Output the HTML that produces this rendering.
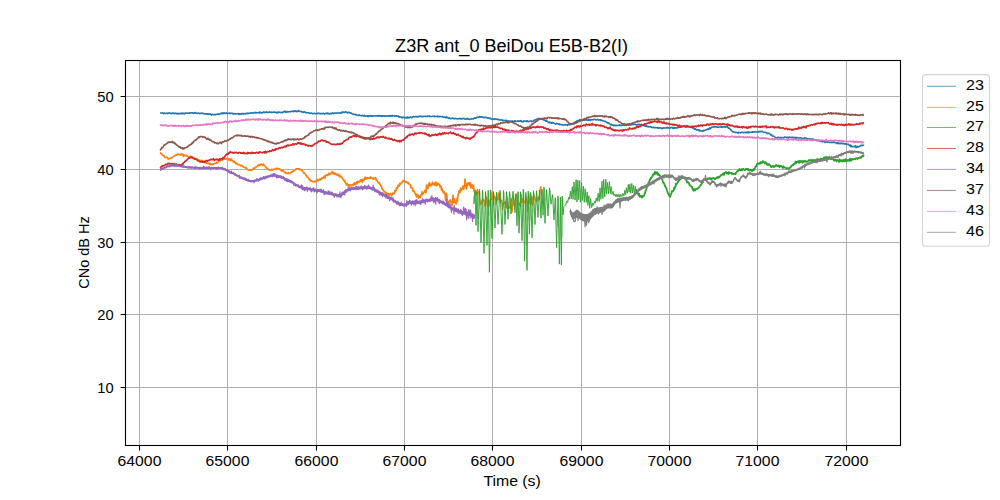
<!DOCTYPE html>
<html><head><meta charset="utf-8"><style>
html,body{margin:0;padding:0;background:#fff;}
svg{display:block;}
text{font-family:"Liberation Sans",sans-serif;fill:#000;}
</style></head><body>
<svg width="1000" height="500" viewBox="0 0 1000 500">
<defs><clipPath id="ax"><rect x="125" y="60" width="776" height="386"/></clipPath></defs>
<rect width="1000" height="500" fill="#fff"/>
<path d="M139.5 60V445M227.5 60V445M316.5 60V445M404.5 60V445M492.5 60V445M581.5 60V445M669.5 60V445M757.5 60V445M846.5 60V445M125 96.5H900M125 169.5H900M125 242.5H900M125 314.5H900M125 387.5H900" stroke="#b0b0b0" stroke-width="1" fill="none"/>
<g clip-path="url(#ax)" fill="none" stroke-linejoin="round">
<path d="M160.0 113.0l.5 .1 .5 -.1 .5 -.1 .5 .1 .5 -.1 .5 .3 .5 .5 .5 -.6 .5 0 .5 .4 .5 0 .5 -.1 .5 -.3 .5 .3 .5 .3 .5 -.6 .5 .2 .5 -.4 .5 .2 .5 -.1 .5 .5 .5 -.3 .5 .4 .5 0 .5 -.1 .5 -.7 .5 .6 .5 .2 .5 0 .5 -.5 .5 .3 .5 -.1 .5 .1 .5 .5 .5 -.5 .5 .2 .5 .3 .5 -.5 .5 .2 .5 0 .5 0 .5 -.4 .5 .4 .5 .3 .5 -.9 .5 .7 .5 -.2 .5 -.3 .5 .7 .5 -.4 .5 -.6 .5 .3 .5 .1 .5 -.2 .5 .2 .5 -.3 .5 .2 .5 .2 .5 -.6 .5 .3 .5 -.2 .5 .1 .5 -.3 .5 .1 .5 .2 .5 .3 .5 .1 .5 -.7 .5 .1 .5 .5 .5 -.8 .5 .5 .5 .1 .5 .4 .5 -.1 .5 -.3 .5 0 .5 .1 .5 .5 .5 -.5 .5 0 .5 .3 .5 -.2 .5 0 .5 -.2 .5 .4 .5 -.1 .5 .5 .5 -.1 .5 -.1 .5 .2 .5 -.2 .5 .5 .5 -.3 .5 .3 .5 -.5 .5 .5 .5 -.5 .5 0 .5 .5 .5 -.1 .5 .4 .5 .7 .5 -.9 .5 .1 .5 .2 .5 .1 .5 -.2 .5 0 .5 .3 .5 -.1 .5 -.5 .5 .2 .5 0 .5 -.4 .5 .3 .5 -.4 .5 .5 .5 -.4 .5 -.1 .5 -.3 .5 .1 .5 -.7 .5 .2 .5 .4 .5 -.8 .5 .8 .5 -.8 .5 .7 .5 -.5 .5 .4 .5 -.2 .5 -.5 .5 .9 .5 .1 .5 -.5 .5 0 .5 0 .5 -.2 .5 .7 .5 -.5 .5 .2 .5 -.2 .5 .1 .5 -.1 .5 .8 .5 -.4 .5 .4 .5 -.3 .5 -.1 .5 .1 .5 0 .5 .2 .5 -.1 .5 0 .5 -.3 .5 .2 .5 .8 .5 -.7 .5 -.1 .5 .4 .5 .3 .5 -.9 .5 .4 .5 -.2 .5 -.3 .5 .7 .5 -.3 .5 0 .5 -.3 .5 .3 .5 -.3 .5 .1 .5 -.4 .5 -.1 .5 .7 .5 -.6 .5 .2 .5 -.2 .5 -.1 .5 -.1 .5 .3 .5 -.4 .5 0 .5 0 .5 .3 .5 -.2 .5 -.1 .5 -.4 .5 -.3 .5 .7 .5 0 .5 -.4 .5 .2 .5 0 .5 0 .5 0 .5 -.4 .5 .6 .5 -.9 .5 .7 .5 -.2 .5 .2 .5 .3 .5 -.2 .5 -.7 .5 -.2 .5 .7 .5 -.5 .5 .3 .5 .3 .5 -.8 .5 -.1 .5 .7 .5 -.1 .5 -.1 .5 .1 .5 -.3 .5 -.2 .5 .5 .5 -.3 .5 -.2 .5 .7 .5 -.2 .5 .1 .5 -.4 .5 .1 .5 -.1 .5 0 .5 .4 .5 -.3 .5 .3 .5 0 .5 .5 .5 -1 .5 .7 .5 -.3 .5 0 .5 -.4 .5 .3 .5 .3 .5 -.2 .5 0 .5 -.1 .5 .4 .5 -.4 .5 -.7 .5 .4 .5 -.4 .5 -.5 .5 .8 .5 .5 .5 -.4 .5 -.4 .5 0 .5 .5 .5 -.3 .5 -.1 .5 -.1 .5 0 .5 .2 .5 -.2 .5 -.1 .5 -.4 .5 .4 .5 -.4 .5 .5 .5 -.7 .5 .3 .5 0 .5 -.4 .5 .9 .5 -.1 .5 -.5 .5 .4 .5 -.1 .5 -.9 .5 .9 .5 0 .5 .1 .5 -.3 .5 .3 .5 .1 .5 .5 .5 -.2 .5 0 .5 .5 .5 -.5 .5 .1 .5 -.3 .5 1.1 .5 -.1 .5 .1 .5 0 .5 -.1 .5 .1 .5 0 .5 .1 .5 .1 .5 .5 .5 -.2 .5 -.1 .5 -.1 .5 .1 .5 .7 .5 -.3 .5 -.1 .5 -.1 .5 -.2 .5 .4 .5 .3 .5 -.4 .5 0 .5 0 .5 .1 .5 -.5 .5 .4 .5 -.2 .5 .5 .5 -.5 .5 .4 .5 .3 .5 -.5 .5 -.1 .5 .2 .5 -.1 .5 -.3 .5 .5 .5 .4 .5 -.7 .5 0 .5 -.2 .5 .4 .5 -.5 .5 0 .5 .7 .5 -.6 .5 .5 .5 .2 .5 -.4 .5 .1 .5 .4 .5 -.7 .5 -.1 .5 -.3 .5 .4 .5 .4 .5 -.2 .5 -.6 .5 0 .5 .1 .5 .2 .5 -.2 .5 .1 .5 0 .5 -.2 .5 0 .5 0 .5 -.1 .5 .2 .5 .3 .5 -.4 .5 -.2 .5 -.6 .5 .5 .5 -.7 .5 .1 .5 .6 .5 -.1 .5 -.3 .5 -.5 .5 .4 .5 -.1 .5 .4 .5 .6 .5 -.5 .5 -.2 .5 0 .5 .5 .5 .1 .5 -.2 .5 .6 .5 -.2 .5 .8 .5 .2 .5 .2 .5 -.3 .5 .5 .5 0 .5 0 .5 .2 .5 -.2 .5 .1 .5 .8 .5 -.2 .5 .2 .5 .2 .5 -.7 .5 .3 .5 .3 .5 .1 .5 -.1 .5 .4 .5 -.2 .5 -.4 .5 .1 .5 .6 .5 -.1 .5 -.6 .5 1 .5 -.2 .5 .2 .5 -.5 .5 .1 .5 -.3 .5 1.1 .5 -.8 .5 .6 .5 -.7 .5 .2 .5 -.5 .5 .4 .5 .4 .5 -.7 .5 .7 .5 -.2 .5 -.4 .5 .1 .5 .1 .5 .1 .5 -.2 .5 0 .5 .1 .5 -.2 .5 -.1 .5 .4 .5 .3 .5 -.8 .5 .5 .5 -.2 .5 -.1 .5 .6 .5 -.5 .5 .6 .5 -.6 .5 .3 .5 -.2 .5 -.1 .5 .4 .5 -.2 .5 .2 .5 -.2 .5 -.3 .5 .3 .5 0 .5 .3 .5 -.6 .5 .3 .5 -.5 .5 .7 .5 -.5 .5 -.2 .5 .5 .5 .3 .5 -.8 .5 .2 .5 .1 .5 -.1 .5 .4 .5 -.3 .5 0 .5 .4 .5 -.3 .5 .4 .5 -.3 .5 0 .5 0 .5 1.2 .5 -.5 .5 .3 .5 0 .5 .2 .5 .1 .5 .7 .5 -.8 .5 -.1 .5 .3 .5 -.1 .5 .7 .5 0 .5 -.5 .5 -.1 .5 .3 .5 .5 .5 -1.3 .5 .9 .5 -.5 .5 .6 .5 -.7 .5 .2 .5 -.4 .5 0 .5 .7 .5 -.2 .5 -.5 .5 -.2 .5 -.3 .5 .3 .5 .1 .5 -.1 .5 0 .5 -.4 .5 .3 .5 -.1 .5 .4 .5 .1 .5 -.6 .5 -.2 .5 .2 .5 -.2 .5 0 .5 .2 .5 -.3 .5 .5 .5 -.2 .5 .1 .5 -.2 .5 -.1 .5 -.1 .5 .2 .5 -.1 .5 .3 .5 -.1 .5 -.4 .5 .4 .5 -.4 .5 .2 .5 .1 .5 -.5 .5 .6 .5 0 .5 0 .5 -.1 .5 0 .5 -.2 .5 .2 .5 -.1 .5 .2 .5 -.4 .5 .5 .5 -.1 .5 0 .5 -.1 .5 .3 .5 -.7 .5 .6 .5 0 .5 0 .5 0 .5 -.3 .5 .1 .5 .3 .5 0 .5 0 .5 -.4 .5 .7 .5 .3 .5 0 .5 -.1 .5 -.4 .5 .9 .5 -.2 .5 -.6 .5 .9 .5 -.4 .5 .1 .5 .3 .5 .7 .5 -.5 .5 .3 .5 .5 .5 -.1 .5 -.4 .5 0 .5 -.3 .5 .2 .5 .4 .5 0 .5 -.1 .5 .3 .5 -.5 .5 .3 .5 .2 .5 0 .5 .2 .5 -.2 .5 -.2 .5 .2 .5 -.3 .5 -.2 .5 .7 .5 -.2 .5 .1 .5 -.6 .5 .5 .5 -.1 .5 -.1 .5 -.4 .5 .6 .5 .4 .5 -.1 .5 -.3 .5 .2 .5 .2 .5 -1 .5 .8 .5 .2 .5 0 .5 .3 .5 -.2 .5 -.2 .5 -.1 .5 .1 .5 -.5 .5 .1 .5 .1 .5 .2 .5 -.8 .5 -.1 .5 0 .5 .2 .5 -.6 .5 .3 .5 -.9 .5 .2 .5 -.2 .5 .3 .5 0 .5 -.8 .5 .1 .5 .4 .5 -.3 .5 -.2 .5 .8 .5 -.1 .5 0 .5 -.2 .5 .5 .5 -.3 .5 .5 .5 -.6 .5 .1 .5 .4 .5 -.1 .5 .5 .5 -.1 .5 -.2 .5 .4 .5 -.1 .5 .5 .5 -.4 .5 .2 .5 .6 .5 .4 .5 0 .5 -.5 .5 .1 .5 .5 .5 -.5 .5 -.2 .5 .4 .5 .2 .5 -.3 .5 -.2 .5 .2 .5 .7 .5 -.4 .5 .3 .5 .2 .5 .2 .5 -.2 .5 .3 .5 -.3 .5 .2 .5 -.1 .5 .7 .5 -.3 .5 -.1 .5 .1 .5 .1 .5 .4 .5 -.7 .5 .2 .5 .3 .5 .9 .5 -.4 .5 -.3 .5 .3 .5 .4 .5 -.7 .5 0 .5 .5 .5 -.2 .5 .1 .5 -.4 .5 .8 .5 -.1 .5 -.3 .5 .1 .5 -.8 .5 .8 .5 -.3 .5 .2 .5 .1 .5 -.3 .5 -.4 .5 .7 .5 -.4 .5 .2 .5 -.1 .5 .1 .5 -.6 .5 1.1 .5 -.3 .5 .3 .5 .2 .5 -.5 .5 -.6 .5 .3 .5 -.1 .5 .2 .5 .2 .5 -.6 .5 .7 .5 -.6 .5 .6 .5 -.1 .5 -.1 .5 .1 .5 -.2 .5 0 .5 -.4 .5 .4 .5 .5 .5 -.1 .5 -.4 .5 -.4 .5 -.6 .5 .4 .5 -.6 .5 -.2 .5 -.3 .5 -.1 .5 -.3 .5 -.1 .5 -.4 .5 .1 .5 .7 .5 -.8 .5 -.1 .5 .3 .5 .1 .5 -.4 .5 .4 .5 .5 .5 0 .5 .2 .5 .7 .5 -.4 .5 .5 .5 .1 .5 .8 .5 -.7 .5 .6 .5 .3 .5 .6 .5 .2 .5 .4 .5 -.7 .5 .8 .5 -.2 .5 0 .5 .5 .5 -.4 .5 -.2 .5 .6 .5 -.2 .5 .3 .5 .4 .5 .1 .5 .5 .5 -.5 .5 -.3 .5 .3 .5 .1 .5 0 .5 .5 .5 -.2 .5 -.3 .5 .8 .5 -.2 .5 .2 .5 0 .5 .2 .5 -.1 .5 .4 .5 -.2 .5 .1 .5 0 .5 -.5 .5 .4 .5 0 .5 .1 .5 -.4 .5 .9 .5 -.5 .5 -.4 .5 -.2 .5 .3 .5 0 .5 -.4 .5 .1 .5 -.5 .5 .1 .5 -.6 .5 0 .5 0 .5 .2 .5 -1.4 .5 -.1 .5 -.3 .5 .2 .5 -.9 .5 0 .5 -.1 .5 -.4 .5 -.2 .5 0 .5 -.6 .5 .2 .5 .2 .5 .2 .5 -.2 .5 -.5 .5 .4 .5 .3 .5 -.1 .5 -.2 .5 -.3 .5 .4 .5 -.4 .5 -.2 .5 .1 .5 .6 .5 -.3 .5 .2 .5 -.5 .5 .4 .5 -.5 .5 .1 .5 .8 .5 -.5 .5 -.4 .5 .1 .5 .1 .5 .2 .5 -.5 .5 -.4 .5 .4 .5 .1 .5 0 .5 .4 .5 -.3 .5 .1 .5 -.5 .5 .6 .5 .3 .5 -.3 .5 -.1 .5 0 .5 .6 .5 -.6 .5 .3 .5 .4 .5 .2 .5 -.1 .5 .4 .5 0 .5 .4 .5 .1 .5 -.1 .5 .6 .5 .5 .5 -.3 .5 .5 .5 .5 .5 -.3 .5 .6 .5 -.1 .5 .8 .5 .6 .5 .1 .5 -.5 .5 .5 .5 0 .5 .1 .5 .6 .5 -.8 .5 .8 .5 -.3 .5 .5 .5 -.3 .5 -.3 .5 .3 .5 .1 .5 -.2 .5 .1 .5 -.3 .5 -.5 .5 .9 .5 -.1 .5 -.2 .5 0 .5 .2 .5 -.4 .5 -.2 .5 .2 .5 .4 .5 -.8 .5 .7 .5 -.6 .5 -.2 .5 .7 .5 -.4 .5 -.4 .5 .2 .5 .4 .5 0 .5 -.5 .5 .2 .5 .1 .5 -.5 .5 .3 .5 -.1 .5 -.2 .5 0 .5 .1 .5 0 .5 -.2 .5 0 .5 .5 .5 -.3 .5 .2 .5 .1 .5 -.2 .5 .5 .5 -.9 .5 .5 .5 -.3 .5 .7 .5 .1 .5 -1 .5 .4 .5 .6 .5 .1 .5 .2 .5 -.1 .5 .3 .5 .2 .5 -.1 .5 .5 .5 -.9 .5 1 .5 -.3 .5 .7 .5 -.2 .5 -.1 .5 .5 .5 -.3 .5 0 .5 -.1 .5 .5 .5 .2 .5 .2 .5 -.2 .5 .4 .5 -.3 .5 0 .5 .3 .5 .2 .5 -.4 .5 .1 .5 .1 .5 .1 .5 -.3 .5 .7 .5 -.4 .5 .3 .5 -.4 .5 .4 .5 0 .5 -.2 .5 .7 .5 -.5 .5 .4 .5 -.2 .5 -.5 .5 .1 .5 .2 .5 -.1 .5 0 .5 -.1 .5 -.4 .5 .4 .5 -.6 .5 .8 .5 -.3 .5 0 .5 .1 .5 .2 .5 -.5 .5 -.1 .5 .2 .5 -.3 .5 .3 .5 .8 .5 -.8 .5 .5 .5 -.6 .5 .5 .5 -.3 .5 0 .5 .1 .5 .3 .5 -.6 .5 -.1 .5 -.4 .5 .3 .5 -.3 .5 .1 .5 -.3 .5 .4 .5 -1.3 .5 .4 .5 .3 .5 -.5 .5 -.2 .5 .1 .5 -.4 .5 .4 .5 .6 .5 -.4 .5 -.6 .5 .1 .5 .2 .5 .5 .5 -.4 .5 .2 .5 .6 .5 .1 .5 -.1 .5 -.1 .5 .1 .5 .5 .5 -.3 .5 1.2 .5 -.2 .5 .5 .5 .7 .5 0 .5 -.5 .5 .9 .5 .3 .5 -.4 .5 .1 .5 .5 .5 -.3 .5 1.1 .5 -1 .5 .5 .5 .3 .5 .1 .5 .1 .5 .1 .5 -.2 .5 .4 .5 -1.1 .5 .5 .5 -.4 .5 .1 .5 -.2 .5 -.5 .5 -.2 .5 .2 .5 -.3 .5 -.6 .5 .6 .5 -.2 .5 -1.4 .5 .3 .5 .5 .5 -.7 .5 -.4 .5 -.3 .5 -.2 .5 0 .5 -.1 .5 .3 .5 -.3 .5 0 .5 -.3 .5 .4 .5 -.3 .5 .2 .5 .4 .5 -.2 .5 .1 .5 -.1 .5 -.1 .5 0 .5 -.1 .5 .3 .5 -.5 .5 .7 .5 -.4 .5 -.2 .5 .1 .5 -.1 .5 .2 .5 -.2 .5 .5 .5 -.5 .5 -.4 .5 .5 .5 -.2 .5 .9 .5 .6 .5 .2 .5 -.2 .5 .5 .5 1.2 .5 0 .5 .3 .5 .7 .5 .9 .5 0 .5 0 .5 .3 .5 .3 .5 -.1 .5 -.1 .5 .4 .5 -.3 .5 .3 .5 0 .5 .7 .5 -1 .5 .3 .5 0 .5 .1 .5 .2 .5 -.4 .5 -.1 .5 -.3 .5 .2 .5 .5 .5 -.2 .5 -.3 .5 .2 .5 .1 .5 .2 .5 -.4 .5 .1 .5 -.5 .5 .2 .5 .8 .5 -1.1 .5 .5 .5 .1 .5 -.2 .5 -.2 .5 .2 .5 0 .5 -.1 .5 -.6 .5 .5 .5 -.3 .5 0 .5 .2 .5 .1 .5 0 .5 -.5 .5 .4 .5 .1 .5 -.1 .5 .1 .5 -.5 .5 0 .5 .3 .5 -.7 .5 .5 .5 -.2 .5 .1 .5 -.4 .5 .4 .5 .3 .5 .4 .5 .1 .5 -.2 .5 .1 .5 -.1 .5 .5 .5 0 .5 .4 .5 .5 .5 -.3 .5 -.2 .5 .4 .5 .1 .5 .3 .5 1.1 .5 -.1 .5 -.2 .5 .9 .5 .5 .5 -.2 .5 .2 .5 .3 .5 .4 .5 .3 .5 .4 .5 .2 .5 .1 .5 .1 .5 -.1 .5 -.7 .5 .5 .5 .1 .5 -.2 .5 .4 .5 -.4 .5 -.2 .5 .7 .5 -.3 .5 -.1 .5 .2 .5 0 .5 -.2 .5 -.8 .5 .5 .5 0 .5 -.1 .5 .3 .5 .3 .5 -.5 .5 -.2 .5 .9 .5 -.7 .5 -.3 .5 .5 .5 0 .5 -.3 .5 .4 .5 -.3 .5 -.1 .5 .3 .5 .2 .5 -.4 .5 .3 .5 -.1 .5 .9 .5 -1 .5 .6 .5 -.4 .5 0 .5 .3 .5 .1 .5 .1 .5 -.2 .5 -.2 .5 0 .5 .4 .5 0 .5 .3 .5 -.2 .5 .2 .5 .2 .5 -.4 .5 -.4 .5 .1 .5 0 .5 1 .5 -.7 .5 .7 .5 -.2 .5 .4 .5 -.1 .5 -.3 .5 0 .5 .2 .5 .1 .5 -.1 .5 .3 .5 .6 .5 -.9 .5 .7 .5 -.3 .5 .5 .5 .3 .5 -.2 .5 .4 .5 -.6 .5 .9 .5 -.4 .5 .5 .5 0 .5 -.7 .5 .6 .5 .4 .5 .5 .5 -.3 .5 0 .5 -.4 .5 .9 .5 .2 .5 -.4 .5 -.1 .5 -.3 .5 .8 .5 .6 .5 -.5 .5 .2 .5 -.1 .5 -.4 .5 .7 .5 -.7 .5 .4 .5 .2 .5 .2 .5 0 .5 0 .5 -.3 .5 -.1 .5 .5 .5 -.2 .5 -.1 .5 0 .5 .3 .5 -.3 .5 .2 .5 0 .5 .6 .5 .1 .5 .5 .5 -1 .5 .3 .5 .5 .5 -.3 .5 0 .5 .7 .5 -.6 .5 -.2 .5 0 .5 .5 .5 .1 .5 -.5 .5 .2 .5 .5 .5 .1 .5 -.3 .5 .4 .5 .1 .5 -.6 .5 .5 .5 .4 .5 -.1 .5 -.3 .5 .8 .5 .6 .5 .4 .5 -.9 .5 1.7 .5 -1 .5 .8 .5 .3 .5 0 .5 -.2 .5 -.3 .5 .5 .5 -.4 .5 -.6 .5 1.6 .5 -.6 .5 .3 .5 -.9 .5 .7 .5 0 .5 -.1 .5 -.5 .5 -.5 .5 .2 .5 -.7 .5 0 .5 .4 .5 -.4 .5 0 .5 -.1 .5 .4" stroke="#1f77b4" stroke-width="1.55"/>
<path d="M160.0 152.7l.5 .3 .5 .8 .5 .1 .5 .5 .5 .9 .5 -.1 .5 .7 .5 -.2 .5 1 .5 .8 .5 -.3 .5 .5 .5 -.3 .5 .1 .5 .1 .5 1.5 .5 -.1 .5 -.3 .5 -.5 .5 .3 .5 -.4 .5 .1 .5 -.3 .5 -.3 .5 -.2 .5 -.6 .5 -.2 .5 -.6 .5 0 .5 -.5 .5 0 .5 -.7 .5 .3 .5 -.2 .5 -.6 .5 -.2 .5 .1 .5 .6 .5 0 .5 .1 .5 -.6 .5 .6 .5 -1.1 .5 1.3 .5 -.6 .5 -.3 .5 2.3 .5 -.9 .5 -.5 .5 .4 .5 .1 .5 .2 .5 -.7 .5 .8 .5 .5 .5 .1 .5 .4 .5 -.1 .5 1.3 .5 -1.3 .5 .4 .5 -1 .5 .6 .5 1.1 .5 -.7 .5 .9 .5 0 .5 -.1 .5 .2 .5 .3 .5 0 .5 .7 .5 .1 .5 -.3 .5 .3 .5 .4 .5 .1 .5 .5 .5 .6 .5 -.3 .5 -.1 .5 .1 .5 -.2 .5 .4 .5 -.2 .5 .6 .5 .2 .5 .7 .5 -.5 .5 .3 .5 0 .5 1.4 .5 -.6 .5 .5 .5 .2 .5 .1 .5 -.3 .5 .4 .5 .6 .5 -.9 .5 1.1 .5 .4 .5 -.8 .5 .4 .5 .3 .5 -.9 .5 .3 .5 -.4 .5 -.3 .5 0 .5 0 .5 -.2 .5 -.2 .5 -.8 .5 .6 .5 -.5 .5 -.5 .5 -.6 .5 -.3 .5 .1 .5 -.6 .5 -1.4 .5 1.1 .5 .2 .5 -1.6 .5 .6 .5 -.4 .5 -.2 .5 .3 .5 -.7 .5 .4 .5 .4 .5 -.4 .5 -.1 .5 .4 .5 -.1 .5 1.2 .5 -1.3 .5 1 .5 -.8 .5 1.4 .5 -.2 .5 -1.3 .5 1.8 .5 0 .5 .4 .5 .9 .5 -.9 .5 .3 .5 1.4 .5 -.1 .5 1.2 .5 -.6 .5 -.1 .5 .5 .5 1.1 .5 .1 .5 -.4 .5 .3 .5 .2 .5 .1 .5 .9 .5 -.3 .5 -.4 .5 .9 .5 .6 .5 .3 .5 .1 .5 .1 .5 .5 .5 -.2 .5 0 .5 1.3 .5 -.1 .5 .4 .5 .5 .5 .2 .5 -.2 .5 .7 .5 -.3 .5 -.2 .5 .6 .5 -.3 .5 -.6 .5 .1 .5 -.3 .5 -1.5 .5 .8 .5 -.4 .5 -.4 .5 -.8 .5 0 .5 -.3 .5 -.4 .5 -.8 .5 .2 .5 -.9 .5 -.1 .5 .8 .5 -1.2 .5 -.1 .5 .4 .5 -.4 .5 .2 .5 .4 .5 .5 .5 -1.3 .5 1.2 .5 .3 .5 .4 .5 .9 .5 .2 .5 1.1 .5 -.2 .5 1 .5 .4 .5 -.3 .5 .7 .5 .6 .5 -.3 .5 -.3 .5 .1 .5 -.6 .5 .6 .5 0 .5 -.6 .5 0 .5 .3 .5 -.6 .5 .1 .5 -.5 .5 -.3 .5 .3 .5 .7 .5 -.8 .5 -.1 .5 .1 .5 .2 .5 .4 .5 .1 .5 .8 .5 -.3 .5 1.2 .5 -.5 .5 .5 .5 -.7 .5 1.2 .5 .4 .5 .2 .5 -.1 .5 1.2 .5 -.3 .5 .2 .5 .4 .5 .1 .5 .2 .5 -1 .5 .5 .5 .2 .5 -.2 .5 -.4 .5 -.4 .5 -.6 .5 .1 .5 .1 .5 -1 .5 .4 .5 -.5 .5 -.7 .5 0 .5 -.9 .5 -.4 .5 0 .5 0 .5 0 .5 -.1 .5 .3 .5 -.6 .5 1.1 .5 -.5 .5 .5 .5 .4 .5 .2 .5 .3 .5 .3 .5 1.1 .5 .7 .5 .6 .5 -.3 .5 .7 .5 .8 .5 1 .5 -.1 .5 1.6 .5 0 .5 .5 .5 1 .5 .6 .5 .3 .5 1 .5 -.2 .5 1.2 .5 -.1 .5 -.2 .5 .7 .5 -.2 .5 .1 .5 -.3 .5 .1 .5 .7 .5 -1.1 .5 .5 .5 -.2 .5 -.2 .5 -1.8 .5 1.3 .5 0 .5 -.7 .5 0 .5 -1.1 .5 .9 .5 -1 .5 .2 .5 -1.2 .5 .8 .5 -1 .5 .4 .5 -1.3 .5 -.5 .5 2 .5 -2.8 .5 .1 .5 -.2 .5 -.6 .5 .6 .5 0 .5 -1.3 .5 -.7 .5 1.6 .5 -.7 .5 .1 .5 -.4 .5 -1.5 .5 .7 .5 -1.4 .5 .7 .5 1.7 .5 -1.2 .5 1.5 .5 -.9 .5 -.2 .5 1.4 .5 .3 .5 -.4 .5 -.6 .5 1.1 .5 .8 .5 -1 .5 .5 .5 1.9 .5 -.8 .5 -.3 .5 .9 .5 .4 .5 1.2 .5 .5 .5 1.2 .5 .5 .5 -.6 .5 1.8 .5 .9 .5 .4 .5 1.6 .5 -1.4 .5 .7 .5 1.5 .5 -.8 .5 -.4 .5 2.7 .5 -2.1 .5 .5 .5 -.5 .5 -.1 .5 -.1 .5 .3 .5 .2 .5 -1.8 .5 1.5 .5 -1.4 .5 -1 .5 1.5 .5 -.8 .5 -1.2 .5 1.7 .5 -2.6 .5 1.1 .5 -.5 .5 .5 .5 -1.4 .5 .6 .5 -1.8 .5 1.4 .5 -1.5 .5 -.2 .5 2.6 .5 -2.5 .5 -.4 .5 1 .5 -1.1 .5 -1.8 .5 1.9 .5 -1.8 .5 1.3 .5 .1 .5 -1.2 .5 0 .5 .7 .5 -.2 .5 -.6 .5 1 .5 -1.6 .5 1.1 .5 -.2 .5 .2 .5 .9 .5 -1.1 .5 1.3 .5 -.4 .5 -.2 .5 -.4 .5 -.6 .5 2.5 .5 -.8 .5 1.2 .5 1.2 .5 .6 .5 .9 .5 -.6 .5 .2 .5 2 .5 .2 .5 1.4 .5 .1 .5 2.7 .5 -.2 .5 .9 .5 1.1 .5 .3 .5 .5 .5 .5 .5 1.6 .5 -1.5 .5 3.2 .5 -2.4 .5 1.1 .5 -.5 .5 -.1 .5 2 .5 -1.5 .5 -.6 .5 -.1 .5 .6 .5 1.9 .5 -1.5 .5 .3 .5 -1.8 .5 .5 .5 -.3 .5 .3 .5 -3 .5 .8 .5 -.7 .5 -2.7 .5 .7 .5 -.9 .5 -2.3 .5 1.3 .5 -.3 .5 -2.2 .5 -1 .5 1.4 .5 -1.5 .5 .1 .5 -.2 .5 -1.8 .5 .8 .5 -1.2 .5 .2 .5 .1 .5 .2 .5 1.1 .5 -.4 .5 0 .5 .2 .5 1 .5 -.7 .5 .3 .5 1.4 .5 0 .5 .8 .5 0 .5 3 .5 .1 .5 -.1 .5 .3 .5 3 .5 -.9 .5 .5 .5 1.5 .5 .6 .5 1.9 .5 -.7 .5 2.8 .5 -2.5 .5 2.1 .5 -1.4 .5 3.2 .5 -2.2 .5 .3 .5 .9 .5 .1 .5 -2.8 .5 0 .5 -2.9 .5 3 .5 -.9 .5 -.7 .5 -.9 .5 -.6 .5 -1.5 .5 2.6 .5 -.2 .5 -7.5 .5 3.9 .5 -1.3 .5 1 .5 -4.6 .5 1.7 .5 -3.1 .5 3.3 .5 -1 .5 -.8 .5 1.3 .5 -1.5 .5 -1.9 .5 2.7 .5 -.5 .5 -.7 .5 1.4 .5 .3 .5 -3.2 .5 .4 .5 3.3 .5 .1 .5 -2.6 .5 -.1 .5 1.3 .5 -.1 .5 -.1 .5 2.8 .5 -1.3 .5 .7 .5 3.7 .5 -1.6 .5 1.4 .5 1.9 .5 1 .5 -1.4 .5 1.9 .5 -.5 .5 7.5 .5 -2.5 .5 -4.4 .5 4.7 .5 2.3 .5 1.5 .5 5 .5 -3.4 .5 -2.7 .5 .7 .5 -1.7 .5 2.3 .5 -.1 .5 3.9 .5 -3.7 .5 -6.9 .5 5.9 .5 1.4 .5 -3.8 .5 3.1 .5 1 .5 1.1 .5 -1.7 .5 -3.9 .5 3.1 .5 -6.6 .5 -1.2 .5 -2.8 .5 0 .5 1.4 .5 -4.2 .5 1.8 .5 .6 .5 -2.2 .5 .4 .5 -2.7 .5 3.2 .5 -1.1 .5 -2.1 .5 -7 .5 3.4 .5 4.3 .5 2.2 .5 -5.2 .5 1.6 .5 -2.7 .5 .6 .5 1 .5 1 .5 -2.7 .5 4.3 .5 1.1 .5 -3.4 .5 .3 .5 3.5 .5 -.9 .5 -2 .5 5.8 .5 -.4 .5 -.5 .5 4.6 .5 -2.4 .5 -1.3 .5 1.9 .5 -3.6 .5 3.1" stroke="#ff7f0e" stroke-width="1.6"/>
<path d="M474.4 189.3l.7 3.5 .7 -1.2 .7 2.7 .7 -2.5 .7 .8 .7 -1 .7 5.9 .7 2.3 .7 5.1 .7 -1.8 .7 -3.1 .7 -1.5 .7 2.7 .7 -1.4 .7 6.9 .7 -2.1 .7 -7.8 .7 .8 .7 9.4 .7 -4.7 .7 -2.4 .7 6.4 .7 -7.1 .7 .5 .7 -.9 .7 -6.8 .7 12.6 .7 -9.4 .7 2.8 .7 -.9 .7 6.5 .7 -3.7 .7 .3 .7 -7.7 .7 7.1 .7 -6.2 .7 8 .7 .4 .7 -1.6 .7 9.6 .7 -6.5 .7 .7 .7 -1.7 .7 -1 .7 5.6 .7 1 .7 -10.5 .7 10.9 .7 -2.2 .7 2.2 .7 -2.2 .7 -7.7 .7 .3 .7 13.5 .7 -7.1 .7 -7.5 .7 8 .7 -3.2 .7 -6.7 .7 -2 .7 3.1 .7 8.4 .7 -1.4 .7 -.9 .7 2.4 .7 1.4 .7 -12.2 .7 8 .7 -2.4 .7 -2 .7 3 .7 1.8 .7 -.8 .7 -5.5 .7 4.1 .7 11.1 .7 -14 .7 -3.1 .7 8.6 .7 1.3 .7 -.9 .7 -7.4 .7 9.1 .7 -8.4 .7 -2 .7 1.9 .7 1.8 .7 3.2 .7 -1 .7 -3.5 .7 3.7 .7 -4.5 .7 2.9 .7 -11.3 .7 -1.7 .7 9.6" stroke="#ff7f0e" stroke-width="1.2"/>
<path d="M474.6 198.0l0 3 1 -8.4 1 11.2 1 -9.9 1 12.3 1.5 -14.7 1.5 23.2 1.5 -22.3 1.5 32.4 1.5 -31.3 1.5 21.5 1.2 -22.7 1.2 23.3 1.3 -23.7 1.3 20.8 1.5 -19.2 1.5 12.1 1.5 -11.5 1.5 9.2 2 -11.1 2 15.5 1.5 -15.1 1.5 15.1 1.5 -14.1 1.5 15.4 1.5 -15.5 1.5 7.5 2 -7.7 2 5.9 1 -3.2 1 7.9 1 -10.3 1 24.6 1.5 -24.4 1.5 30 1.3 -32.5 1.3 30.1 1.2 -26.9 1.2 26.8 1.2 -28.1 1.2 26.8 1.3 -25.7 1.3 18.7 1.5 -20.3 1.5 18.1 1.5 -18.1 1.5 6 1.5 -6.8 1.5 13.6 1 -14.4 1 15.5 1 -17.6 1 12 1.5 -9.3 1.5 13.2 1.5 -15.1 1.5 6.7 1.5 .1 1.5 14.4 1.3 -11.3 1.3 26.3 1.4 -28.1 1.4 42.1 1 -40.9 1 38.6 .8 -39.5 .8 6.9" stroke="#2ca02c" stroke-width="0.7" stroke-opacity="0.35"/>
<path d="M474.0 196.0l0 7.8 1 -13.2 1 34.7 1 -33.4 1 39.7 1.5 -42.1 1.5 53.3 1.5 -52.4 1.5 62.9 1.5 -61.8 1.5 53.9 1.2 -55.1 1.2 82 1.3 -82.4 1.3 48.7 1.5 -47.1 1.5 36.5 1.5 -35.9 1.5 32.2 2 -34.1 2 44.1 1.5 -43.7 1.5 33.9 1.5 -32.9 1.5 27.6 1.5 -27.7 1.5 22.5 2 -22.7 2 21.4 1 -18.7 1 31.7 1 -34.1 1 41.6 1.5 -41.4 1.5 48.9 1.3 -51.4 1.3 71.9 1.2 -68.7 1.2 77.9 1.2 -79.2 1.2 43 1.3 -41.9 1.3 45.5 1.5 -47.1 1.5 33.9 1.5 -33.9 1.5 26.7 1.5 -27.5 1.5 28.2 1 -29 1 26.2 1 -28.3 1 36.3 1.5 -33.6 1.5 26.2 1.5 -28.1 1.5 16.4 1.5 -9.6 1.5 25.3 1.3 -22.2 1.3 49.9 1.4 -51.7 1.4 68.2 1 -67 1 68 .8 -68.9 .8 18.9 .8 -8.7" stroke="#2ca02c" stroke-width="0.9"/>
<path d="M564.5 205.6l1.1 -.3 1.1 -4.1 1 1.2 .9 -5 .9 1.8 .9 -8 .9 7.6 1 -12.1 .8 12.6 .9 -17.3 1.1 18.1 1 -20.4 .9 22.4 .8 -21.9 .9 19.5 1 -19.2 .7 21.8 1.2 -19.6 1 17.8 .9 -14.3 .8 16 .9 -13.4 1 13.6 1 -10.4 .7 13.4 1 -9.8 .8 12.7 .9 -9.7 1.1 9 1 -4.6 .9 2.3 .9 -4.2 .9 2 .8 -5.2 1 3.5 1 -8.1 1 8.2 .8 -13.7 .9 11.5 1.1 -18 .9 17.1 .8 -19 1.1 17.4 1 -17.5 .8 14.8 .9 -11.6 1 11.4 .9 -12.3 .9 12 .9 -7.1 .8 7.9 1.1 -3 .9 4.3 1 -1.6 1 2.8 .9 -2.6 .9 2.6 1.1 -2.8 .9 3.3 1 -3 1.1 2.3 1 -3.3 1 2.6 .9 -5.7 .8 4.4 .8 -7 1 5.7 .9 -9 .8 7.7 .8 -8.3 .9 9.6 1 -10 .8 9.6 1 -7.8 .8 9.3 1 -8.2 1 7.8 .9 -2.8" stroke="#2ca02c" stroke-width="0.9"/>
<path d="M564.5 205.6l.5 .1 .5 -1.1 .5 -.7 .5 -.2 .5 -1.1 .5 -1.2 .5 -1.4 .5 -.7 .5 -1.3 .5 -1.5 .5 -1.3 .5 -.7 .5 -.9 .5 -.3 .5 -.5 .5 -.5 .5 -.9 .5 -.1 .5 -.2 .5 -.4 .5 -.1 .5 .4 .5 -.6 .5 .1 .5 -.5 .5 .1 .5 -.5 .5 .4 .5 .4 .5 .4 .5 .1 .5 .3 .5 .2 .5 .3 .5 .6 .5 .6 .5 .1 .5 .9 .5 .1 .5 .4 .5 .8 .5 .6 .5 .9 .5 1.6 .5 .6 .5 1 .5 1.1 .5 .8 .5 .5 .5 1.2 .5 .4 .5 .4 .5 .4 .5 -.2 .5 .3 .5 0 .5 -.4 .5 -.9 .5 -.5 .5 -.3 .5 -.5 .5 -.8 .5 -.6 .5 -1.1 .5 -.6 .5 -.5 .5 -.9 .5 -.8 .5 -.3 .5 -1.5 .5 -1.3 .5 -.8 .5 -.5 .5 -1.3 .5 -.5 .5 -1.2 .5 -.6 .5 -.5 .5 0 .5 .4 .5 -.9 .5 .6 .5 -.8 .5 .2 .5 .2 .5 -.1 .5 -.1 .5 -.5 .5 .6 .5 0 .5 1.4 .5 -.1 .5 .7 .5 .3 .5 .9 .5 .7 .5 1.4 .5 .3 .5 .8 .5 .2 .5 .6 .5 .8 .5 -.4 .5 -.2 .5 .6 .5 -.4 .5 .2 .5 .4 .5 -.4 .5 .4 .5 -.4 .5 .5 .5 -.2 .5 -.7 .5 -.2 .5 -.4 .5 0 .5 -.1 .5 -1.1 .5 .2 .5 -1.2 .5 -.5 .5 -.9 .5 .4 .5 -1.1 .5 -.5 .5 -.9 .5 -.2 .5 -1.2 .5 .3 .5 .6 .5 -.6 .5 .1 .5 .3 .5 -.2 .5 .3 .5 .4 .5 0 .5 .4 .5 .1 .5 .5 .5 .4 .5 1 .5 .5 .5 .4 .5 0" stroke="#2ca02c" stroke-width="1.0" stroke-opacity="0.3"/>
<path d="M636.0 189.2l.5 1.7 .5 1.2 .5 .7 .5 .8 .5 1.8 .5 -1.9 .5 2.3 .5 1.2 .5 -1.1 .5 .2 .5 .6 .5 .8 .5 -1.7 .5 .8 .5 -.5 .5 -.4 .5 -1.5 .5 -1.1 .5 -2 .5 -1.1 .5 -1.7 .5 -1.4 .5 -1.1 .5 -1.4 .5 -1.9 .5 .4 .5 -2 .5 -1.8 .5 .5 .5 -2 .5 0 .5 -1.1 .5 -.6 .5 -.8 .5 -1.2 .5 -.3 .5 .8 .5 -2.7 .5 1.4 .5 .2 .5 -.8 .5 -.1 .5 2.3 .5 -1.4 .5 1.7 .5 -.5 .5 .3 .5 1 .5 .8 .5 1.1 .5 .4 .5 .9 .5 1.1 .5 2 .5 .9 .5 .1 .5 1.4 .5 1.7 .5 .5 .5 1.3 .5 .8 .5 1.7 .5 1.5 .5 1.4 .5 .3 .5 1.9 .5 -.8 .5 2.1 .5 -1.6 .5 -1 .5 -1.3 .5 -2.2 .5 .8 .5 -.8 .5 .1 .5 -2.9 .5 1 .5 -2.2 .5 -.2 .5 -2.9 .5 .7 .5 -1.2 .5 -.3 .5 -1.2 .5 -1.5 .5 .5 .5 -.8 .5 -.5 .5 -.3 .5 -.4 .5 -1.1 .5 -1.1 .5 -.2 .5 1.5 .5 -.2 .5 0 .5 .2 .5 .9 .5 .7 .5 .4 .5 .4 .5 2.3 .5 -.5 .5 .1 .5 .3 .5 1 .5 1.5 .5 .6 .5 0 .5 .8 .5 .4 .5 .2 .5 2.1 .5 0 .5 1.8 .5 -1.6 .5 .6 .5 .7 .5 -.7 .5 -.9 .5 0 .5 .2 .5 -.3 .5 -.7 .5 .1 .5 -.5 .5 -1 .5 -.7 .5 -.8 .5 -.2 .5 -.7 .5 -1.4 .5 -.7 .5 -1.3 .5 -1.4 .5 -.4 .5 .6 .5 -.4 .5 .6 .5 -1 .5 .4 .5 .3 .5 -.3 .5 -1 .5 .3 .5 .1 .5 -.7 .5 .9 .5 .3 .5 -1 .5 1.4 .5 -1.3 .5 0 .5 -.1 .5 -.3 .5 .7 .5 -.3 .5 .9 .5 -.6 .5 -.1 .5 -.6 .5 -.7 .5 .6 .5 -.8 .5 .7 .5 -1 .5 .5 .5 -1 .5 -.3 .5 -.8 .5 -.3 .5 0 .5 -.2 .5 -1.2 .5 .4 .5 1.1 .5 -1.8 .5 -.3 .5 -.3 .5 -.5 .5 1.5 .5 -.8 .5 .1 .5 .9 .5 .4 .5 -2.1 .5 1.1 .5 -.2 .5 -.1 .5 .1 .5 -.1 .5 1.2 .5 -.4 .5 0 .5 .6 .5 -.2 .5 -.3 .5 -.2 .5 .6 .5 -1.1 .5 -.8 .5 -.8 .5 -.1 .5 -.9 .5 .4 .5 -.3 .5 -1.6 .5 1.1 .5 .3 .5 -.4 .5 -.7 .5 1.3 .5 -1.3 .5 -.3 .5 0 .5 .6 .5 .6 .5 .1 .5 -.6 .5 -.8 .5 .4 .5 0 .5 .5 .5 -.9 .5 1.3 .5 .4 .5 -.4 .5 .5 .5 -.8 .5 -.2 .5 .5 .5 1.1 .5 -.2 .5 -1.2 .5 .6 .5 -1.5 .5 .4 .5 -1.3 .5 -1.3 .5 0 .5 -1.7 .5 -.7 .5 -.8 .5 .7 .5 -.5 .5 -.3 .5 -.5 .5 .8 .5 -1.3 .5 -.4 .5 1 .5 0 .5 -.8 .5 -1.2 .5 .7 .5 .8 .5 -.1 .5 1.2 .5 -1.5 .5 1.6 .5 -.5 .5 1.5 .5 -.5 .5 .9 .5 -.7 .5 -.2 .5 .6 .5 .6 .5 0 .5 1.6 .5 .2 .5 -.5 .5 -.8 .5 .5 .5 -.4 .5 1.2 .5 -.7 .5 0 .5 -.6 .5 -1 .5 .7 .5 -.2 .5 .8 .5 -.1 .5 -.6 .5 .3 .5 1.3 .5 -1.4 .5 .1 .5 .5 .5 -.1 .5 .3 .5 .7 .5 .8 .5 -1.9 .5 1.2 .5 .2 .5 .2 .5 .1 .5 .1 .5 1 .5 -.8 .5 .3 .5 .1 .5 0 .5 -.4 .5 .4 .5 -.9 .5 -.3 .5 -.6 .5 -.9 .5 -.3 .5 -.5 .5 .3 .5 -1 .5 -.7 .5 .3 .5 -.3 .5 -1.9 .5 1.7 .5 -1.4 .5 -.3 .5 .5 .5 -.7 .5 -.4 .5 1.7 .5 -1.9 .5 .5 .5 .6 .5 -1.1 .5 .5 .5 .3 .5 1.2 .5 -1.9 .5 .5 .5 .4 .5 -.4 .5 -.8 .5 .9 .5 -.2 .5 .1 .5 .3 .5 -.2 .5 -.5 .5 -.2 .5 -.9 .5 .5 .5 .1 .5 -.4 .5 .3 .5 -.6 .5 1.3 .5 .4 .5 -1.6 .5 .4 .5 -.4 .5 .9 .5 -.5 .5 -.3 .5 -.2 .5 .1 .5 -.7 .5 .9 .5 -.9 .5 .7 .5 -.4 .5 .5 .5 -.8 .5 .5 .5 -1.2 .5 .8 .5 -.6 .5 .1 .5 -.1 .5 .4 .5 -1.9 .5 1.3 .5 -1.2 .5 1.6 .5 -2 .5 .5 .5 -.4 .5 1.9 .5 -1.8 .5 .9 .5 -.4 .5 -.7 .5 .9 .5 .7 .5 -.3 .5 .8 .5 -.6 .5 .4 .5 0 .5 .7 .5 1.1 .5 -.7 .5 .1 .5 -.3 .5 .1 .5 1.5 .5 -1.4 .5 .2 .5 .5 .5 -.2 .5 1.5 .5 -2.6 .5 1.6 .5 .2 .5 -1.1 .5 .2 .5 .7 .5 .6 .5 -1.5 .5 -.4 .5 1.4 .5 .3 .5 -1.1 .5 -1.2 .5 2.2 .5 -1.1 .5 .7 .5 -.7 .5 -.3 .5 -.1 .5 1.1 .5 -.1 .5 -2.2 .5 .7 .5 1.5 .5 -1.3 .5 -.7 .5 .7 .5 -.1 .5 -.1 .5 -.3 .5 0 .5 -.2 .5 .3 .5 -.9 .5 .2 .5 -.1 .5 .7 .5 -.8 .5 -.4 .5 .1 .5 -.3 .5 .2 .5 -.6 .5 .6 .5 -.5 .5 -1.1 .5 -.5 .5 .5 .5 -.4 .5 -.7" stroke="#2ca02c" stroke-width="1.8"/>
<path d="M160.0 168.3l.5 -.4 .5 -1 .5 -.8 .5 .1 .5 .5 .5 -1.1 .5 -.1 .5 0 .5 .1 .5 -.7 .5 -.3 .5 -.4 .5 .7 .5 -.4 .5 -.6 .5 -.6 .5 .1 .5 .5 .5 -.6 .5 .7 .5 -.2 .5 0 .5 .1 .5 0 .5 -.4 .5 .3 .5 1.1 .5 -1.3 .5 .4 .5 .7 .5 -.4 .5 -.1 .5 -.1 .5 .8 .5 .3 .5 .2 .5 -.5 .5 .5 .5 -.8 .5 .5 .5 -.4 .5 .2 .5 0 .5 -.1 .5 -1.2 .5 .6 .5 -1.2 .5 -.6 .5 -.2 .5 -1 .5 .1 .5 -.4 .5 -.7 .5 -.2 .5 -.8 .5 -.2 .5 -1 .5 .3 .5 -.7 .5 0 .5 0 .5 .1 .5 -.7 .5 .1 .5 .6 .5 .5 .5 .1 .5 .5 .5 .4 .5 -.1 .5 .1 .5 -.1 .5 .3 .5 .5 .5 .6 .5 .3 .5 .1 .5 .2 .5 .6 .5 0 .5 .2 .5 .1 .5 -.2 .5 -.2 .5 .6 .5 -.1 .5 -.3 .5 -.2 .5 .9 .5 -1.4 .5 .1 .5 0 .5 -.8 .5 .3 .5 .5 .5 -.5 .5 -.3 .5 -.2 .5 -.3 .5 .2 .5 -.6 .5 -.2 .5 .2 .5 .3 .5 -.3 .5 .2 .5 -1.1 .5 1.3 .5 .5 .5 -.4 .5 -.6 .5 -.2 .5 .4 .5 -.5 .5 .7 .5 -.4 .5 .6 .5 .1 .5 -1.3 .5 .9 .5 -.4 .5 -.5 .5 .1 .5 -.1 .5 .1 .5 -1.5 .5 .6 .5 -.1 .5 -1.1 .5 -.6 .5 -.7 .5 -1 .5 .1 .5 -.5 .5 -.3 .5 .4 .5 -1.1 .5 -.3 .5 .3 .5 -1.2 .5 0 .5 .4 .5 -.1 .5 .5 .5 -.4 .5 .9 .5 -.1 .5 -.3 .5 -.4 .5 .4 .5 .1 .5 -.7 .5 .6 .5 .1 .5 -.1 .5 .5 .5 -.1 .5 -.8 .5 .4 .5 -.3 .5 .6 .5 -.6 .5 .8 .5 -.2 .5 .2 .5 -.4 .5 -.5 .5 1.3 .5 -.8 .5 .6 .5 -.3 .5 .1 .5 .4 .5 -.6 .5 .5 .5 -1.2 .5 .9 .5 -.4 .5 0 .5 .1 .5 .1 .5 .5 .5 -1.4 .5 .8 .5 -.4 .5 .8 .5 -.7 .5 .4 .5 -.4 .5 .4 .5 .2 .5 -.6 .5 .1 .5 -.6 .5 .7 .5 .2 .5 -.6 .5 .7 .5 -1.3 .5 0 .5 .2 .5 .3 .5 .2 .5 0 .5 -.1 .5 .3 .5 -.5 .5 -.4 .5 -.1 .5 1.3 .5 -1.9 .5 .8 .5 .6 .5 -.6 .5 -.6 .5 .2 .5 .2 .5 0 .5 -1 .5 .5 .5 -.3 .5 .2 .5 -.1 .5 -.8 .5 -.6 .5 .5 .5 .4 .5 -.6 .5 -.3 .5 .7 .5 -1.5 .5 .6 .5 -.8 .5 .1 .5 -.1 .5 .4 .5 -1.1 .5 0 .5 -.5 .5 .7 .5 -.5 .5 .2 .5 -.7 .5 .1 .5 .5 .5 -.7 .5 .2 .5 -.2 .5 -.4 .5 -.7 .5 .9 .5 -.5 .5 .2 .5 -1.3 .5 0 .5 -.4 .5 .4 .5 .6 .5 -.3 .5 -.4 .5 -.1 .5 .1 .5 -.5 .5 .2 .5 -.3 .5 -1 .5 .6 .5 .6 .5 -.8 .5 0 .5 -.3 .5 0 .5 .6 .5 -.6 .5 -.4 .5 -.9 .5 1 .5 -.6 .5 .1 .5 1 .5 0 .5 -1 .5 1.2 .5 -.1 .5 -.3 .5 .7 .5 -.8 .5 .4 .5 0 .5 .4 .5 .9 .5 -.7 .5 .3 .5 .2 .5 .6 .5 -.1 .5 .6 .5 -.6 .5 -.1 .5 .3 .5 .2 .5 -.5 .5 .4 .5 .4 .5 -1.1 .5 0 .5 .2 .5 -1.1 .5 -.4 .5 -.4 .5 .3 .5 -.3 .5 -.6 .5 -.3 .5 .2 .5 -.5 .5 -1.2 .5 .3 .5 -.2 .5 .1 .5 -.6 .5 -.3 .5 0 .5 -.5 .5 .7 .5 -.2 .5 .5 .5 -.4 .5 .3 .5 0 .5 .1 .5 1 .5 -.3 .5 .6 .5 -.4 .5 .7 .5 -.5 .5 .8 .5 .2 .5 .6 .5 .1 .5 0 .5 .6 .5 -.1 .5 .2 .5 .2 .5 -.3 .5 0 .5 .2 .5 -.3 .5 .3 .5 .3 .5 -.2 .5 -.5 .5 -.4 .5 .5 .5 -.1 .5 .4 .5 -.6 .5 0 .5 .3 .5 -.7 .5 -.2 .5 .5 .5 -.5 .5 -.8 .5 -.5 .5 -.9 .5 .2 .5 -.6 .5 -.3 .5 -.6 .5 -.1 .5 -.4 .5 -.1 .5 .2 .5 -.7 .5 -1.1 .5 -.1 .5 -.5 .5 .1 .5 .2 .5 -.3 .5 -.6 .5 .2 .5 -.6 .5 -.4 .5 -.1 .5 .2 .5 .8 .5 -1 .5 1 .5 .1 .5 -.5 .5 .1 .5 -.2 .5 .4 .5 .4 .5 -.2 .5 .6 .5 .2 .5 -.2 .5 .1 .5 0 .5 .3 .5 -.4 .5 .7 .5 .1 .5 -.3 .5 1.4 .5 -1.2 .5 .2 .5 .6 .5 -.8 .5 .5 .5 -.2 .5 .3 .5 .4 .5 .2 .5 .3 .5 -.1 .5 .1 .5 -.3 .5 -.5 .5 .6 .5 -.7 .5 -.2 .5 .8 .5 -.4 .5 -.4 .5 .1 .5 -.1 .5 -1 .5 .4 .5 -.6 .5 .4 .5 -.4 .5 .7 .5 -.4 .5 -.6 .5 .3 .5 -.6 .5 .5 .5 .2 .5 -.1 .5 -.8 .5 .7 .5 .4 .5 0 .5 .5 .5 -.8 .5 .9 .5 -.3 .5 .5 .5 .2 .5 .3 .5 -.4 .5 .5 .5 -.4 .5 0 .5 .9 .5 -.1 .5 -.5 .5 .4 .5 .5 .5 .8 .5 -.1 .5 0 .5 -.9 .5 .8 .5 .4 .5 0 .5 .2 .5 -.2 .5 .9 .5 -.1 .5 -.5 .5 -.4 .5 1.3 .5 -1 .5 .6 .5 .2 .5 -1.3 .5 .3 .5 -.6 .5 .1 .5 -.5 .5 .3 .5 -.9 .5 -.7 .5 0 .5 -.9 .5 -.5 .5 .7 .5 -1.6 .5 -.3 .5 -.1 .5 -.7 .5 -.6 .5 1.1 .5 -.9 .5 0 .5 -.1 .5 -.3 .5 -.2 .5 .4 .5 .8 .5 -.8 .5 -.1 .5 -1 .5 .5 .5 -.6 .5 .7 .5 -.5 .5 0 .5 -.1 .5 -.2 .5 -.5 .5 .8 .5 -.8 .5 0 .5 .4 .5 -.2 .5 .4 .5 .3 .5 -.2 .5 .1 .5 .1 .5 .5 .5 -.9 .5 1.1 .5 -.2 .5 .1 .5 .7 .5 0 .5 .6 .5 .4 .5 -1.3 .5 1 .5 .9 .5 -.5 .5 .2 .5 -.6 .5 -.6 .5 0 .5 .7 .5 0 .5 -.7 .5 .1 .5 .1 .5 -.9 .5 .4 .5 .7 .5 .2 .5 -1.1 .5 .7 .5 -1 .5 -.2 .5 -.7 .5 1.3 .5 -.6 .5 1 .5 -.9 .5 -.1 .5 -.9 .5 1.3 .5 -.8 .5 0 .5 -.9 .5 1.2 .5 0 .5 -.7 .5 .2 .5 .1 .5 .2 .5 -.4 .5 .6 .5 -.8 .5 -.2 .5 .1 .5 -.8 .5 .7 .5 .8 .5 -.3 .5 -.3 .5 .6 .5 -.9 .5 .8 .5 .5 .5 .2 .5 -.4 .5 .9 .5 .5 .5 -.7 .5 .6 .5 -.7 .5 .1 .5 1.2 .5 0 .5 .3 .5 -.1 .5 .3 .5 .6 .5 .6 .5 -.6 .5 -.4 .5 1.4 .5 -.1 .5 .2 .5 0 .5 1 .5 -.8 .5 .3 .5 -.8 .5 .6 .5 0 .5 .4 .5 .2 .5 -.4 .5 1 .5 -1.2 .5 .1 .5 0 .5 -.9 .5 .3 .5 -.4 .5 -.9 .5 .4 .5 -1.3 .5 -.6 .5 -1.1 .5 -.9 .5 -.1 .5 -.5 .5 -.6 .5 0 .5 -1.7 .5 .2 .5 -.6 .5 1 .5 -.9 .5 -.2 .5 -.4 .5 .7 .5 -.7 .5 .1 .5 -1.1 .5 1.1 .5 -.4 .5 -.1 .5 .1 .5 -.7 .5 -.1 .5 .2 .5 -.2 .5 -.4 .5 .1 .5 -.4 .5 .4 .5 .1 .5 -.5 .5 .7 .5 -1.4 .5 .5 .5 .7 .5 -.9 .5 -.5 .5 1.2 .5 -.3 .5 -.7 .5 .9 .5 -.7 .5 0 .5 .6 .5 0 .5 -.2 .5 .5 .5 -.1 .5 .6 .5 .1 .5 .5 .5 -.4 .5 -.1 .5 .1 .5 .6 .5 .9 .5 -.1 .5 -.5 .5 .8 .5 -.7 .5 1 .5 -.5 .5 .6 .5 0 .5 -.2 .5 .3 .5 -.4 .5 .5 .5 .6 .5 1.3 .5 -1.3 .5 -.1 .5 -.4 .5 .9 .5 -1 .5 .4 .5 .6 .5 -.6 .5 1.1 .5 -.1 .5 -.7 .5 .1 .5 -.4 .5 0 .5 .7 .5 0 .5 -.2 .5 -.2 .5 -.4 .5 .2 .5 -.8 .5 .4 .5 .4 .5 -.2 .5 -.9 .5 -.1 .5 .5 .5 0 .5 -1.5 .5 .3 .5 0 .5 .3 .5 -1 .5 .4 .5 -.5 .5 .9 .5 -.9 .5 -.3 .5 -.2 .5 .5 .5 -.2 .5 -.8 .5 .5 .5 -.7 .5 .1 .5 -.3 .5 0 .5 .2 .5 -.2 .5 .5 .5 .1 .5 -.5 .5 -.4 .5 .7 .5 -1.1 .5 0 .5 1 .5 0 .5 .1 .5 -.5 .5 -.4 .5 .4 .5 .5 .5 -.4 .5 .1 .5 -.1 .5 .3 .5 1 .5 0 .5 -.4 .5 .2 .5 .5 .5 .6 .5 -.5 .5 .6 .5 -.6 .5 .5 .5 .8 .5 .3 .5 -.8 .5 .2 .5 .7 .5 -.4 .5 0 .5 .4 .5 -.1 .5 .5 .5 -.1 .5 -.5 .5 .2 .5 0 .5 -.4 .5 .2 .5 .8 .5 -1 .5 1 .5 -.2 .5 -.1 .5 .3 .5 0 .5 .3 .5 -.6 .5 0 .5 .1 .5 .8 .5 -.3 .5 -.8 .5 .3 .5 -.1 .5 .3 .5 0 .5 .9 .5 -1.7 .5 1.2 .5 -.2 .5 -.5 .5 .2 .5 -.3 .5 .1 .5 .2 .5 -1.3 .5 .8 .5 -1 .5 .4 .5 -.8 .5 0 .5 -.6 .5 -.1 .5 -.7 .5 -.6 .5 .4 .5 -.1 .5 .4 .5 -1.8 .5 .6 .5 .4 .5 -1 .5 .3 .5 .8 .5 -.4 .5 -1 .5 .8 .5 -.2 .5 -.2 .5 -.3 .5 -.1 .5 -.6 .5 .1 .5 .4 .5 -.3 .5 .6 .5 -.9 .5 -.9 .5 .7 .5 .2 .5 0 .5 -.1 .5 -.4 .5 .9 .5 -.9 .5 .5 .5 -.4 .5 -.4 .5 1.1 .5 -1.6 .5 .7 .5 .5 .5 -.3 .5 .5 .5 -.3 .5 0 .5 1.1 .5 -.9 .5 .1 .5 -.3 .5 .2 .5 .7 .5 0 .5 -.1 .5 -.2 .5 .7 .5 -.9 .5 .7 .5 .1 .5 -.1 .5 .5 .5 -.2 .5 0 .5 1.2 .5 -.2 .5 .3 .5 -.3 .5 .5 .5 .2 .5 .3 .5 .7 .5 -.9 .5 .4 .5 .1 .5 -1.2 .5 1 .5 .7 .5 .4 .5 -.3 .5 .9 .5 .2 .5 -.6 .5 .9 .5 .3 .5 -.4 .5 -.5 .5 1 .5 -.6 .5 0 .5 .2 .5 -.2 .5 .6 .5 -.1 .5 .2 .5 -.3 .5 -.6 .5 .2 .5 .4 .5 -.6 .5 1.3 .5 -1.3 .5 -.2 .5 .6 .5 -.2 .5 -.4 .5 -.2 .5 .2 .5 .1 .5 -.1 .5 -.5 .5 .2 .5 .1 .5 -.2 .5 -1.6 .5 .8 .5 0 .5 .1 .5 .1 .5 .2 .5 -.2 .5 -.4 .5 -.1 .5 .6 .5 -1.1 .5 .2 .5 .4 .5 -.7 .5 -1.1 .5 .8 .5 -.5 .5 0 .5 .3 .5 -.5 .5 -.4 .5 .2 .5 -.3 .5 -.4 .5 -.1 .5 -.2 .5 -.5 .5 -.2 .5 0 .5 -.6 .5 -.3 .5 .8 .5 -.8 .5 -.1 .5 -.2 .5 -.1 .5 -.2 .5 -.2 .5 -.5 .5 .6 .5 -.8 .5 .5 .5 -1.3 .5 .2 .5 .7 .5 -.5 .5 -.3 .5 .3 .5 -.6 .5 .3 .5 -.9 .5 .6 .5 -.1 .5 .5 .5 .2 .5 -.7 .5 1 .5 -.8 .5 -.6 .5 0 .5 1.6 .5 -.6 .5 -.1 .5 0 .5 0 .5 1 .5 -.4 .5 .8 .5 -.7 .5 -.7 .5 1.4 .5 -.4 .5 .2 .5 .8 .5 -.6 .5 .7 .5 -.4 .5 -.2 .5 .6 .5 -.3 .5 .8 .5 0 .5 -.3 .5 .3 .5 .1 .5 -.3 .5 .6 .5 -.4 .5 .5 .5 -.6 .5 .6 .5 .2 .5 -.4 .5 .3 .5 0 .5 .6 .5 -.5 .5 .6 .5 .5 .5 -.3 .5 -.7 .5 .8 .5 .4 .5 -.4 .5 .6 .5 -.1 .5 0 .5 -.2 .5 0 .5 .2 .5 .1 .5 .3 .5 0 .5 -.2 .5 .2 .5 .1 .5 -.7 .5 .3 .5 .1 .5 .2 .5 0 .5 0 .5 -.3 .5 .6 .5 -.2 .5 -.8 .5 .6 .5 -.5 .5 1 .5 -.9 .5 -.1 .5 .1 .5 -.3 .5 0 .5 .5 .5 -.6 .5 .1 .5 .1 .5 -1 .5 1 .5 -.5 .5 .1 .5 -.8 .5 .6 .5 -.2 .5 -.4 .5 1.1 .5 -.8 .5 -.3 .5 .1 .5 .2 .5 .1 .5 -.3 .5 .2 .5 0 .5 -1.1 .5 .3 .5 -.3 .5 .4 .5 .5 .5 -.3 .5 -.8 .5 .3 .5 .5 .5 -.7 .5 .2 .5 .1 .5 -.9 .5 1 .5 -.2 .5 .1 .5 -.7 .5 .1 .5 0 .5 .4 .5 -.1 .5 0 .5 .6 .5 -.2 .5 -.8 .5 0 .5 1 .5 -.8 .5 .7 .5 .1 .5 -.8 .5 .1 .5 .2 .5 -.3 .5 0 .5 .3 .5 .5 .5 -.4 .5 .2 .5 -.1 .5 -.2 .5 1.2 .5 -1.4 .5 .7 .5 .6 .5 -.7 .5 .9 .5 .4 .5 -.7 .5 .5 .5 -.4 .5 .7 .5 0 .5 .1 .5 .6 .5 -.3 .5 .5 .5 -.2 .5 -.7 .5 .7 .5 .2 .5 -.7 .5 1.2 .5 -.4 .5 .2 .5 -.5 .5 .5 .5 .1 .5 -.2 .5 .2 .5 -.8 .5 1.4 .5 -1 .5 -.4 .5 .5 .5 .1 .5 .5 .5 -.6 .5 .5 .5 -.5 .5 1.2 .5 -.7 .5 .6 .5 -1.3 .5 .7 .5 -.7 .5 .6 .5 0 .5 -1 .5 .2 .5 -.1 .5 -.1 .5 .2 .5 -.1 .5 -.2 .5 .6 .5 .1 .5 -.8 .5 .3 .5 .2 .5 -.1 .5 -.2 .5 .6 .5 0 .5 -.1 .5 -.4 .5 .9 .5 -.1 .5 -.9 .5 .2 .5 .5 .5 -.8 .5 .5 .5 -.1 .5 -.3 .5 .2 .5 -.5 .5 .4 .5 -.6 .5 1.8 .5 -.3 .5 -.1 .5 -.4 .5 .3 .5 .2 .5 -.1 .5 0 .5 -.7 .5 .5 .5 -.3 .5 -.2 .5 0 .5 .7 .5 .2 .5 -.9 .5 1.3 .5 -.1 .5 -.7 .5 0 .5 .2 .5 .5 .5 -.5 .5 -.3 .5 .6 .5 -.9 .5 .9 .5 .5 .5 -.3 .5 .2 .5 0 .5 .1 .5 -.1 .5 -.3 .5 .3 .5 .2 .5 .6 .5 .3 .5 -.4 .5 -.4 .5 .1 .5 .3 .5 .8 .5 -.4 .5 0 .5 -.2 .5 .7 .5 -.2 .5 -.1 .5 .1 .5 .7 .5 -.8 .5 .8 .5 -.2 .5 -.5 .5 .2 .5 -.4 .5 -.4 .5 .2 .5 -.3 .5 .4 .5 -.3 .5 .1 .5 0 .5 -1.7 .5 1.3 .5 -1 .5 .7 .5 -.6 .5 .3 .5 .4 .5 -1.4 .5 .6 .5 -.2 .5 -.9 .5 .9 .5 -.3 .5 -.4 .5 -.2 .5 1.5 .5 -1.6 .5 -.6 .5 .2 .5 .1 .5 -.2 .5 0 .5 -.5 .5 .5 .5 -.6 .5 -.4 .5 0 .5 0 .5 .4 .5 -.3 .5 -.5 .5 0 .5 0 .5 .5 .5 -1.2 .5 .3 .5 0 .5 -.8 .5 .3 .5 -.1 .5 -.3 .5 .3 .5 .1 .5 -.1 .5 -.6 .5 .1 .5 .8 .5 -1.4 .5 .4 .5 .3 .5 -.3 .5 .2 .5 -.2 .5 .2 .5 .3 .5 -.6 .5 .2 .5 0 .5 -.1 .5 .3 .5 -.4 .5 .9 .5 .4 .5 .1 .5 0 .5 -.8 .5 1.1 .5 -.8 .5 .4 .5 .9 .5 -1.1 .5 .9 .5 -.1 .5 -.1 .5 -.2 .5 .6 .5 -.3 .5 .7 .5 .1 .5 -1 .5 .4 .5 .1 .5 -.3 .5 .1 .5 .4 .5 -.1 .5 -.6 .5 .5 .5 .4 .5 -.7 .5 .1 .5 1 .5 -.1 .5 -1.2 .5 .1 .5 .7 .5 -.7 .5 .4 .5 -.1 .5 .4 .5 -1.3 .5 .2 .5 .3 .5 .9 .5 -.5 .5 -.6 .5 .8 .5 .1 .5 -.5 .5 0 .5 .2 .5 .3 .5 -.5 .5 .1 .5 -.3 .5 -.1 .5 -.3 .5 .4 .5 -.3 .5 0 .5 .4 .5 -.3 .5 .1 .5 -1.1 .5 .8 .5 -.5 .5 -.2 .5 -.1 .5 .7 .5 -.3 .5 -.7 .5 -.3" stroke="#d62728" stroke-width="1.6"/>
<path d="M160.0 169.2l.5 -.3 .5 -.2 .5 -.3 .5 -.3 .5 -.2 .5 -.3 .5 -.2 .5 -.2 .5 -.3 .5 -.2 .5 -.2 .5 -.2 .5 -.2 .5 -.2 .5 -.2 .5 -.1 .5 -.2 .5 -.1 .5 -.1 .5 -.2 .5 -.1 .5 -.1 .5 0 .5 -.1 .5 -.1 .5 0 .5 0 .5 0 .5 0 .5 0 .5 0 .5 0 .5 .1 .5 0 .5 .1 .5 .1 .5 0 .5 .1 .5 .1 .5 .1 .5 .1 .5 .1 .5 .1 .5 .1 .5 .1 .5 .1 .5 .1 .5 .1 .5 0 .5 .1 .5 .1 .5 .1 .5 .1 .5 0 .5 .1 .5 .1 .5 0 .5 .1 .5 0 .5 0 .5 0 .5 0 .5 .1 .5 0 .5 0 .5 0 .5 0 .5 0 .5 .1 .5 0 .5 0 .5 0 .5 0 .5 0 .5 0 .5 0 .5 0 .5 .1 .5 0 .5 0 .5 0 .5 0 .5 0 .5 0 .5 0 .5 0 .5 0 .5 0 .5 0 .5 0 .5 0 .5 0 .5 .1 .5 0 .5 0 .5 0 .5 0 .5 0 .5 0 .5 0 .5 0 .5 0 .5 0 .5 0 .5 -.1 .5 0 .5 0 .5 0 .5 0 .5 0 .5 0 .5 0 .5 0 .5 0 .5 0 .5 0 .5 0 .5 0 .5 0 .5 0 .5 0 .5 .1 .5 .1 .5 .1 .5 .2 .5 .1 .5 .2 .5 .2 .5 .3 .5 .2 .5 .3 .5 .2 .5 .3 .5 .3 .5 .2 .5 .3 .5 .2 .5 .3 .5 .2 .5 .2 .5 .2 .5 .2 .5 .2 .5 .3 .5 .2 .5 .2 .5 .3 .5 .2 .5 .3 .5 .3 .5 .2 .5 .3 .5 .3 .5 .2 .5 .3 .5 .3 .5 .2 .5 .3 .5 .3 .5 .2 .5 .3 .5 .3 .5 .2 .5 .3 .5 .2 .5 .2 .5 .3 .5 .2 .5 .2 .5 .2 .5 .2 .5 .2 .5 .1 .5 .2 .5 .1 .5 .2 .5 .1 .5 .1 .5 .1 .5 .1 .5 0 .5 .1 .5 0 .5 0 .5 0 .5 0 .5 -.1 .5 0 .5 -.1 .5 -.1 .5 -.1 .5 -.1 .5 -.1 .5 -.1 .5 -.2 .5 -.1 .5 -.2 .5 -.1 .5 -.2 .5 -.2 .5 -.1 .5 -.2 .5 -.2 .5 -.2 .5 -.2 .5 -.1 .5 -.2 .5 -.2 .5 -.2 .5 -.2 .5 -.2 .5 -.1 .5 -.2 .5 -.2 .5 -.1 .5 -.2 .5 -.1 .5 -.2 .5 -.1 .5 -.1 .5 -.1 .5 -.1 .5 -.1 .5 -.1 .5 0 .5 -.1 .5 0 .5 0 .5 0 .5 0 .5 .1 .5 0 .5 .1 .5 .1 .5 .1 .5 .1 .5 .1 .5 .2 .5 .1 .5 .2 .5 .1 .5 .2 .5 .2 .5 .2 .5 .2 .5 .2 .5 .2 .5 .2 .5 .2 .5 .3 .5 .2 .5 .2 .5 .3 .5 .2 .5 .2 .5 .2 .5 .3 .5 .2 .5 .2 .5 .2 .5 .3 .5 .2 .5 .3 .5 .3 .5 .3 .5 .4 .5 .3 .5 .4 .5 .3 .5 .4 .5 .3 .5 .4 .5 .3 .5 .3 .5 .3 .5 .3 .5 .3 .5 .2 .5 .2 .5 .2 .5 .2 .5 .1 .5 .2 .5 .1 .5 .1 .5 .2 .5 .1 .5 .1 .5 .1 .5 .1 .5 .1 .5 .1 .5 .1 .5 .1 .5 .1 .5 .1 .5 .1 .5 .1 .5 .1 .5 .1 .5 .1 .5 .1 .5 0 .5 .1 .5 .1 .5 .1 .5 .1 .5 .1 .5 .1 .5 .1 .5 0 .5 .1 .5 .1 .5 .1 .5 .1 .5 0 .5 .1 .5 .1 .5 .1 .5 .1 .5 .1 .5 .1 .5 .1 .5 .1 .5 .1 .5 .1 .5 .2 .5 .1 .5 .1 .5 .2 .5 .1 .5 .2 .5 .1 .5 .2 .5 .1 .5 .2 .5 .1 .5 .1 .5 .2 .5 .1 .5 .2 .5 .1 .5 .1 .5 .2 .5 .1 .5 .1 .5 .1 .5 .1 .5 .2 .5 .1 .5 0 .5 .1 .5 .1 .5 .1 .5 0 .5 .1 .5 0 .5 0 .5 .1 .5 0 .5 -.1 .5 -.2 .5 -.3 .5 -.3 .5 -.4 .5 -.5 .5 -.5 .5 -.5 .5 -.5 .5 -.4 .5 -.4 .5 -.3 .5 -.3 .5 -.3 .5 -.3 .5 -.3 .5 -.3 .5 -.2 .5 -.2 .5 -.2 .5 -.1 .5 0 .5 -.1 .5 -.1 .5 -.1 .5 -.1 .5 0 .5 -.1 .5 0 .5 -.1 .5 0 .5 -.1 .5 0 .5 -.1 .5 0 .5 -.1 .5 0 .5 -.1 .5 0 .5 -.1 .5 0 .5 0 .5 -.1 .5 0 .5 -.1 .5 0 .5 0 .5 0 .5 -.1 .5 0 .5 0 .5 .1 .5 0 .5 0 .5 .1 .5 0 .5 .1 .5 .1 .5 .1 .5 0 .5 .1 .5 .1 .5 .2 .5 .2 .5 .2 .5 .2 .5 .3 .5 .2 .5 .3 .5 .3 .5 .3 .5 .3 .5 .3 .5 .3 .5 .3 .5 .3 .5 .3 .5 .3 .5 .3 .5 .2 .5 .3 .5 .2 .5 .3 .5 .2 .5 .2 .5 .3 .5 .2 .5 .3 .5 .2 .5 .3 .5 .2 .5 .2 .5 .3 .5 .2 .5 .3 .5 .3 .5 .2 .5 .3 .5 .2 .5 .3 .5 .3 .5 .3 .5 .3 .5 .3 .5 .4 .5 .3 .5 .3 .5 .4 .5 .3 .5 .4 .5 .3 .5 .3 .5 .4 .5 .3 .5 .3 .5 .2 .5 .3 .5 .2 .5 .2 .5 .2 .5 .2 .5 .1 .5 .2 .5 .2 .5 .1 .5 .1 .5 .1 .5 0 .5 -.1 .5 -.1 .5 -.2 .5 -.2 .5 -.3 .5 -.3 .5 -.3 .5 -.3 .5 -.3 .5 -.2 .5 -.1 .5 -.1 .5 -.1 .5 0 .5 0 .5 -.1 .5 0 .5 0 .5 -.1 .5 0 .5 0 .5 0 .5 0 .5 0 .5 -.1 .5 0 .5 0 .5 0 .5 0 .5 -.1 .5 0 .5 0 .5 -.1 .5 -.1 .5 0 .5 -.1 .5 -.1 .5 -.1 .5 -.1 .5 -.2 .5 -.1 .5 -.1 .5 -.1 .5 -.2 .5 -.1 .5 -.1 .5 -.1 .5 -.1 .5 -.1 .5 -.1 .5 -.1 .5 -.1 .5 0 .5 -.1 .5 -.1 .5 0 .5 -.1 .5 0 .5 -.1 .5 0 .5 0 .5 -.1 .5 0 .5 0 .5 0 .5 .1 .5 .2 .5 .2 .5 .3 .5 .3 .5 .3 .5 .3 .5 .3 .5 .3 .5 .3 .5 .3 .5 .3 .5 .2 .5 .3 .5 .3 .5 .3 .5 .3 .5 .3 .5 .3 .5 .3 .5 .4 .5 .3 .5 .3 .5 .3 .5 .3 .5 .3 .5 .3 .5 .3 .5 .3 .5 .3 .5 .3 .5 .3 .5 .3 .5 .3 .5 .2 .5 .3 .5 .2 .5 .2 .5 .2 .5 .2 .5 .2 .5 .2 .5 .2 .5 .2 .5 .2 .5 .1 .5 .2 .5 .1 .5 .2 .5 .1 .5 .1 .5 .2 .5 .1 .5 .1 .5 .1 .5 .1 .5 .1 .5 .1 .5 .1 .5 .1 .5 .1 .5 .1 .5 .1 .5 0 .5 .1 .5 .1 .5 .1 .5 .1 .5 .2 .5 .1 .5 .3 .5 .2 .5 .3 .5 .4 .5 .3 .5 .4 .5 .4 0 3.6 -.5 -.4 -.5 -.4 -.5 -.4 -.5 -.3 -.5 -.4 -.5 -.2 -.5 -.3 -.5 -.2 -.5 -.1 -.5 -.1 -.5 -.2 -.5 -.1 -.5 0 -.5 -.1 -.5 -.1 -.5 -.1 -.5 -.1 -.5 -.1 -.5 -.1 -.5 -.2 -.5 -.1 -.5 -.1 -.5 -.1 -.5 -.1 -.5 -.2 -.5 -.1 -.5 -.1 -.5 -.2 -.5 -.1 -.5 -.2 -.5 -.2 -.5 -.1 -.5 -.2 -.5 -.2 -.5 -.2 -.5 -.2 -.5 -.2 -.5 -.2 -.5 -.2 -.5 -.3 -.5 -.2 -.5 -.2 -.5 -.3 -.5 -.3 -.5 -.2 -.5 -.3 -.5 -.3 -.5 -.4 -.5 -.3 -.5 -.3 -.5 -.3 -.5 -.3 -.5 -.4 -.5 -.3 -.5 -.3 -.5 -.3 -.5 -.3 -.5 -.3 -.5 -.3 -.5 -.3 -.5 -.3 -.5 -.3 -.5 -.3 -.5 -.3 -.5 -.3 -.5 -.3 -.5 -.3 -.5 -.3 -.5 -.3 -.5 -.3 -.5 -.3 -.5 -.4 -.5 -.2 -.5 -.3 -.5 -.2 -.5 -.2 -.5 -.1 -.5 0 -.5 0 -.5 0 -.5 0 -.5 .1 -.5 0 -.5 0 -.5 .1 -.5 0 -.5 .1 -.5 .1 -.5 0 -.5 .1 -.5 0 -.5 .1 -.5 .1 -.5 .1 -.5 .1 -.5 .1 -.5 .1 -.5 .2 -.5 .1 -.5 .1 -.5 .1 -.5 .1 -.5 .2 -.5 .1 -.5 .1 -.5 .1 -.5 .1 -.5 0 -.5 .1 -.5 0 -.5 .1 -.5 0 -.5 0 -.5 .1 -.5 0 -.5 0 -.5 0 -.5 0 -.5 .1 -.5 0 -.5 0 -.5 0 -.5 0 -.5 0 -.5 .1 -.5 0 -.5 0 -.5 0 -.5 .1 -.5 0 -.5 .1 -.5 .2 -.5 .2 -.5 .3 -.5 .2 -.5 .3 -.5 .3 -.5 .3 -.5 .2 -.5 .2 -.5 .2 -.5 0 -.5 0 -.5 -.1 -.5 -.1 -.5 -.1 -.5 -.2 -.5 -.2 -.5 -.1 -.5 -.2 -.5 -.2 -.5 -.2 -.5 -.2 -.5 -.3 -.5 -.3 -.5 -.2 -.5 -.4 -.5 -.3 -.5 -.3 -.5 -.3 -.5 -.4 -.5 -.3 -.5 -.4 -.5 -.3 -.5 -.4 -.5 -.3 -.5 -.3 -.5 -.3 -.5 -.3 -.5 -.3 -.5 -.3 -.5 -.2 -.5 -.3 -.5 -.3 -.5 -.2 -.5 -.3 -.5 -.2 -.5 -.3 -.5 -.2 -.5 -.3 -.5 -.2 -.5 -.3 -.5 -.2 -.5 -.2 -.5 -.3 -.5 -.2 -.5 -.3 -.5 -.2 -.5 -.3 -.5 -.2 -.5 -.3 -.5 -.3 -.5 -.2 -.5 -.3 -.5 -.3 -.5 -.3 -.5 -.3 -.5 -.4 -.5 -.3 -.5 -.3 -.5 -.2 -.5 -.3 -.5 -.3 -.5 -.2 -.5 -.3 -.5 -.2 -.5 -.2 -.5 -.1 -.5 -.1 -.5 -.1 -.5 -.1 -.5 -.1 -.5 -.1 -.5 0 -.5 -.1 -.5 0 -.5 -.1 -.5 0 -.5 0 -.5 0 -.5 0 -.5 0 -.5 0 -.5 0 -.5 .1 -.5 0 -.5 0 -.5 .1 -.5 0 -.5 .1 -.5 0 -.5 .1 -.5 0 -.5 .1 -.5 0 -.5 0 -.5 .1 -.5 0 -.5 .1 -.5 0 -.5 .1 -.5 0 -.5 .1 -.5 0 -.5 .1 -.5 .1 -.5 .1 -.5 .1 -.5 0 -.5 .2 -.5 .1 -.5 .2 -.5 .2 -.5 .3 -.5 .2 -.5 .3 -.5 .3 -.5 .3 -.5 .4 -.5 .4 -.5 .4 -.5 .5 -.5 .5 -.5 .5 -.5 .4 -.5 .5 -.5 .3 -.5 .3 -.5 .2 -.5 0 -.5 0 -.5 0 -.5 0 -.5 -.1 -.5 0 -.5 -.1 -.5 0 -.5 -.1 -.5 -.1 -.5 -.1 -.5 -.1 -.5 -.1 -.5 -.1 -.5 -.1 -.5 -.1 -.5 -.2 -.5 -.1 -.5 -.1 -.5 -.2 -.5 -.1 -.5 -.2 -.5 -.1 -.5 -.1 -.5 -.2 -.5 -.1 -.5 -.2 -.5 -.1 -.5 -.2 -.5 -.1 -.5 -.2 -.5 -.1 -.5 -.1 -.5 -.2 -.5 -.1 -.5 -.1 -.5 -.2 -.5 -.1 -.5 -.1 -.5 -.1 -.5 -.1 -.5 -.1 -.5 -.1 -.5 0 -.5 -.1 -.5 -.1 -.5 -.1 -.5 -.1 -.5 0 -.5 -.1 -.5 -.1 -.5 -.1 -.5 -.1 -.5 -.1 -.5 -.1 -.5 -.1 -.5 0 -.5 -.1 -.5 -.1 -.5 -.1 -.5 -.1 -.5 -.1 -.5 -.1 -.5 -.1 -.5 -.1 -.5 -.1 -.5 0 -.5 -.1 -.5 -.1 -.5 -.2 -.5 -.1 -.5 -.1 -.5 -.1 -.5 -.1 -.5 -.1 -.5 -.2 -.5 -.1 -.5 -.1 -.5 -.2 -.5 -.1 -.5 -.2 -.5 -.2 -.5 -.2 -.5 -.2 -.5 -.3 -.5 -.3 -.5 -.3 -.5 -.3 -.5 -.4 -.5 -.3 -.5 -.4 -.5 -.3 -.5 -.4 -.5 -.3 -.5 -.4 -.5 -.3 -.5 -.3 -.5 -.4 -.5 -.2 -.5 -.3 -.5 -.2 -.5 -.3 -.5 -.2 -.5 -.2 -.5 -.3 -.5 -.2 -.5 -.2 -.5 -.3 -.5 -.2 -.5 -.2 -.5 -.3 -.5 -.2 -.5 -.2 -.5 -.2 -.5 -.2 -.5 -.3 -.5 -.2 -.5 -.2 -.5 -.1 -.5 -.2 -.5 -.2 -.5 -.2 -.5 -.1 -.5 -.2 -.5 -.1 -.5 -.1 -.5 -.1 -.5 -.1 -.5 -.1 -.5 0 -.5 -.1 -.5 0 -.5 0 -.5 0 -.5 0 -.5 .1 -.5 0 -.5 .1 -.5 0 -.5 .1 -.5 .1 -.5 .2 -.5 .1 -.5 .1 -.5 .1 -.5 .2 -.5 .2 -.5 .1 -.5 .2 -.5 .1 -.5 .2 -.5 .2 -.5 .2 -.5 .2 -.5 .1 -.5 .2 -.5 .2 -.5 .2 -.5 .2 -.5 .1 -.5 .2 -.5 .2 -.5 .1 -.5 .2 -.5 .1 -.5 .2 -.5 .1 -.5 .1 -.5 .1 -.5 .1 -.5 .1 -.5 .1 -.5 .1 -.5 0 -.5 .1 -.5 0 -.5 0 -.5 0 -.5 0 -.5 -.1 -.5 -.1 -.5 0 -.5 -.1 -.5 -.1 -.5 -.2 -.5 -.1 -.5 -.2 -.5 -.1 -.5 -.2 -.5 -.2 -.5 -.2 -.5 -.2 -.5 -.2 -.5 -.2 -.5 -.3 -.5 -.2 -.5 -.2 -.5 -.3 -.5 -.2 -.5 -.3 -.5 -.3 -.5 -.2 -.5 -.3 -.5 -.3 -.5 -.3 -.5 -.2 -.5 -.3 -.5 -.3 -.5 -.2 -.5 -.3 -.5 -.3 -.5 -.3 -.5 -.2 -.5 -.3 -.5 -.2 -.5 -.3 -.5 -.2 -.5 -.2 -.5 -.3 -.5 -.2 -.5 -.2 -.5 -.2 -.5 -.2 -.5 -.3 -.5 -.2 -.5 -.3 -.5 -.3 -.5 -.2 -.5 -.3 -.5 -.3 -.5 -.2 -.5 -.3 -.5 -.2 -.5 -.2 -.5 -.2 -.5 -.2 -.5 -.1 -.5 -.2 -.5 -.1 -.5 0 -.5 0 -.5 0 -.5 0 -.5 0 -.5 0 -.5 0 -.5 0 -.5 0 -.5 0 -.5 0 -.5 0 -.5 0 -.5 0 -.5 0 -.5 0 -.5 0 -.5 -.1 -.5 0 -.5 0 -.5 0 -.5 0 -.5 0 -.5 0 -.5 0 -.5 0 -.5 0 -.5 0 -.5 0 -.5 0 -.5 0 -.5 0 -.5 0 -.5 0 -.5 0 -.5 0 -.5 0 -.5 -.1 -.5 0 -.5 0 -.5 0 -.5 0 -.5 0 -.5 0 -.5 0 -.5 0 -.5 -.1 -.5 0 -.5 0 -.5 0 -.5 0 -.5 0 -.5 -.1 -.5 0 -.5 0 -.5 0 -.5 0 -.5 0 -.5 -.1 -.5 0 -.5 0 -.5 0 -.5 0 -.5 -.1 -.5 0 -.5 -.1 -.5 0 -.5 -.1 -.5 -.1 -.5 -.1 -.5 0 -.5 -.1 -.5 -.1 -.5 -.1 -.5 -.1 -.5 -.1 -.5 -.1 -.5 -.1 -.5 -.1 -.5 -.1 -.5 -.1 -.5 -.1 -.5 -.1 -.5 -.1 -.5 -.1 -.5 0 -.5 -.1 -.5 -.1 -.5 0 -.5 -.1 -.5 0 -.5 0 -.5 -.1 -.5 0 -.5 0 -.5 .1 -.5 0 -.5 .1 -.5 0 -.5 .1 -.5 .1 -.5 .1 -.5 .1 -.5 .1 -.5 .2 -.5 .1 -.5 .2 -.5 .2 -.5 .1 -.5 .2 -.5 .2 -.5 .2 -.5 .3 -.5 .2 -.5 .2 -.5 .3 -.5 .2 -.5 .2 -.5 .3 -.5 .3 -.5 .2 -.5 .3z" fill="#9467bd" stroke="none"/>
<path d="M160.0 170.0l.4 -.4 .3 .9 .3 -1.8 .4 -.4 .3 .6 .4 0 .3 -.1 .4 .1 .3 .5 .4 -1.4 .3 -.2 .4 -.8 .3 .9 .4 .1 .3 -.7 .4 .6 .3 -.7 .4 .6 .3 -.8 .4 -.8 .3 .1 .4 -.6 .3 -.2 .4 .9 .3 .2 .4 .5 .3 -1.1 .4 -.2 .3 -.6 .4 1.1 .3 -.4 .4 -.6 .3 .6 .4 -.1 .3 -1.3 .4 1.4 .3 -.4 .4 -.3 .3 0 .4 1.1 .3 -.1 .4 .2 .3 -1.6 .4 .3 .3 .9 .4 -1.2 .3 .3 .4 -.5 .3 2 .4 -.4 .3 -.3 .4 0 .3 -.3 .4 0 .3 .7 .4 -.7 .3 1.1 .4 -.9 .3 -.1 .4 1.3 .3 -.8 .4 .5 .3 -.5 .4 -1 .3 1.7 .4 -1 .3 1.4 .4 -1.4 .3 -.1 .4 1.3 .3 .1 .4 -.1 .3 -.7 .4 1.3 .3 -1.3 .4 .6 .3 -.1 .4 .2 .3 .8 .4 -.8 .3 .7 .4 .1 .3 -1.4 .4 .4 .3 .5 .4 -.1 .3 .5 .4 -1.3 .3 1.6 .4 0 .3 -.5 .4 -.7 .3 .8 .4 -.3 .3 .6 .4 -.3 .3 .5 .4 -.7 .3 1.1 .4 -2.2 .3 .8 .4 .9 .3 -1.2 .4 1.3 .3 -1.1 .4 .8 .3 -.6 .4 .3 .3 .4 .4 -.2 .3 -.2 .4 1.6 .3 -1.3 .4 -.6 .3 1.2 .4 -.1 .3 .3 .4 .3 .3 -1.7 .4 1.3 .3 0 .4 -.7 .3 .2 .4 -2 .3 1.5 .4 1.5 .3 -2.3 .4 .8 .3 .6 .4 .1 .3 .7 .4 -2.1 .3 1.1 .4 .5 .3 -1.3 .4 .8 .3 1.2 .4 -.4 .3 -.5 .4 -2 .3 1.6 .4 .3 .3 -.4 .4 .2 .3 2 .4 -2.1 .3 -.5 .4 .8 .3 -.4 .4 0 .3 .1 .4 .6 .3 -.3 .4 -1 .3 .7 .4 .4 .3 -.6 .4 1.1 .3 -.3 .4 -1.2 .3 .9 .4 1.1 .3 -.3 .4 -1 .3 .6 .4 -1 .3 -.6 .4 1.4 .3 -.2 .4 .1 .3 -.3 .4 .2 .3 -.5 .4 .7 .3 .3 .4 -.6 .3 .7 .4 -1.6 .3 .8 .4 1.6 .3 .3 .4 -.8 .3 -.1 .4 -.7 .3 1.3 .4 .5 .3 -1.4 .4 1.6 .3 .1 .4 .2 .3 -.9 .4 1.3 .3 -1.2 .4 2.2 .3 -.7 .4 -.7 .3 1.9 .4 0 .3 -1.1 .4 2.1 .3 -2.1 .4 1.1 .3 .8 .4 -2.3 .3 2.5 .4 -.6 .3 .2 .4 -.6 .3 1.2 .4 -.9 .3 .3 .4 .5 .3 -.3 .4 2.2 .3 -1.9 .4 .6 .3 .5 .4 .4 .3 .8 .4 .2 .3 -.7 .4 .2 .3 .5 .4 .7 .3 .1 .4 -.7 .3 -1 .4 3.4 .3 -.7 .4 -.3 .3 .2 .4 -.5 .3 -.2 .4 .7 .3 .3 .4 -.2 .3 -.5 .4 1.1 .3 .8 .4 -.6 .3 .5 .4 -1.5 .3 1.6 .4 .2 .3 -.7 .4 -.3 .3 1.8 .4 -.8 .3 1.1 .4 -.6 .3 .9 .4 -.7 .3 -.8 .4 1.2 .3 -.1 .4 .8 .3 -.8 .4 .1 .3 1 .4 .3 .3 -.3 .4 .3 .3 -.5 .4 .2 .3 .1 .4 -.4 .3 -.3 .4 0 .3 1.9 .4 -2.1 .3 -.2 .4 -.2 .3 .2 .4 .2 .3 -1.3 .4 -.8 .3 1.9 .4 -1.8 .3 1.5 .4 -.2 .3 .8 .4 .3 .3 -1.2 .4 -.9 .3 -.7 .4 .3 .3 .6 .4 -2 .3 1.7 .4 -.2 .3 .5 .4 -1 .3 .3 .4 -.9 .3 .1 .4 -1.3 .3 1.6 .4 1.1 .3 -1.4 .4 .1 .3 -1.3 .4 2 .3 -2.1 .4 1.3 .3 -.7 .4 -1.1 .3 1.7 .4 -1 .3 0 .4 .2 .3 -.6 .4 -.4 .3 .7 .4 -.9 .3 .4 .4 -.8 .3 -.8 .4 .7 .3 .1 .4 .4 .3 1.1 .4 -2.7 .3 1.7 .4 -2.3 .3 1.1 .4 .5 .3 -1.6 .4 .3 .3 2 .4 0 .3 -.2 .4 -.6 .3 2.9 .4 -2.2 .3 -.6 .4 2.6 .3 -1 .4 -.9 .3 1.6 .4 -.9 .3 .6 .4 -.3 .3 -1.1 .4 2.1 .3 -.7 .4 -1 .3 .3 .4 1.9 .3 -1.2 .4 .6 .3 .7 .4 -.4 .3 -1.5 .4 2.4 .3 .4 .4 .1 .3 .9 .4 -1.1 .3 .6 .4 1 .3 -1.8 .4 2.3 .3 .1 .4 -.8 .3 1.3 .4 -.9 .3 -1.6 .4 2.2 .3 -.6 .4 .2 .3 -.1 .4 1.4 .3 -.7 .4 -1.1 .3 1.4 .4 .5 .3 -1.3 .4 .5 .3 .3 .4 0 .3 1.3 .4 .9 .3 1.2 .4 -.5 .3 .1 .4 .3 .3 .5 .4 -1.6 .3 1.4 .4 -.2 .3 -.2 .4 -.2 .3 .2 .4 .5 .3 -.9 .4 2.1 .3 -.4 .4 .3 .3 .3 .4 .6 .3 -1.3 .4 .6 .3 -1.5 .4 -.6 .3 .4 .4 3.9 .3 -3.6 .4 2.6 .3 1.2 .4 -2 .3 2.4 .4 .3 .3 -.9 .4 1.6 .3 -1.8 .4 -1.4 .3 1.4 .4 -1 .3 -.9 .4 .1 .3 4.1 .4 -3.1 .3 .6 .4 -.6 .3 .9 .4 -.3 .3 -.2 .4 -.8 .3 -.2 .4 .9 .3 1.2 .4 2 .3 -1 .4 .9 .3 -1.5 .4 -.5 .3 -1.4 .4 1.6 .3 -2.4 .4 2.2 .3 2.2 .4 -1.4 .3 1 .4 -1.7 .3 -1 .4 1 .3 .2 .4 1.9 .3 .9 .4 -3 .3 .5 .4 .3 .3 -.2 .4 -1 .3 1.6 .4 .4 .3 .1 .4 -1.8 .3 1.3 .4 -1.8 .3 3.1 .4 -2.1 .3 1 .4 -.2 .3 0 .4 -.5 .3 -.7 .4 4.1 .3 -1.6 .4 .1 .3 2.2 .4 -2.4 .3 .8 .4 -.5 .3 1.5 .4 -.7 .3 -.1 .4 -.6 .3 .7 .4 1.2 .3 -3.7 .4 2.4 .3 -.3 .4 .3 .3 -1.9 .4 3.3 .3 -1.8 .4 .9 .3 -.3 .4 -1.2 .3 1.5 .4 -1.5 .3 1.1 .4 .8 .3 .4 .4 .2 .3 -.2 .4 2.8 .3 -1.9 .4 -1.9 .3 .8 .4 0 .3 .6 .4 -.4 .3 -.3 .4 3 .3 -1.9 .4 -.4 .3 .2 .4 0 .3 1.9 .4 -1 .3 .8 .4 -5 .3 4 .4 .8 .3 1 .4 -2.5 .3 -2.3 .4 2.5 .3 -1.7 .4 -1.8 .3 1.1 .4 1.6 .3 -.1 .4 -.9 .3 -2.5 .4 3.9 .3 -4.6 .4 1 .3 -1.9 .4 3.1 .3 -1.3 .4 .4 .3 -1.2 .4 -.4 .3 .1 .4 -2.7 .3 3.3 .4 -.2 .3 -1.7 .4 .3 .3 .3 .4 1.5 .3 -1.5 .4 -.5 .3 -.7 .4 -1.3 .3 1 .4 .8 .3 -.4 .4 .3 .3 .8 .4 -.4 .3 -.3 .4 .5 .3 -.6 .4 -.3 .3 .5 .4 -2.7 .3 3.6 .4 -3.1 .3 2.6 .4 -1.1 .3 1.3 .4 -1.3 .3 -1.2 .4 2.4 .3 -1.1 .4 -.1 .3 -.1 .4 1.1 .3 -.3 .4 -.7 .3 -2.2 .4 1.3 .3 .6 .4 2.1 .3 -1.8 .4 -.6 .3 1.6 .4 -1.6 .3 0 .4 .3 .3 -2.1 .4 3 .3 -.6 .4 -.9 .3 -1 .4 1.7 .3 1.5 .4 -2.5 .3 -.5 .4 1.9 .3 -2.5 .4 -.7 .3 2.3 .4 -.3 .3 .6 .4 -.3 .3 1.1 .4 -.6 .3 -.3 .4 .2 .3 1.5 .4 .6 .3 0 .4 -.1 .3 -4.8 .4 3.1 .3 1 .4 .8 .3 -2 .4 4 .3 -1.2 .4 -1 .3 1.2 .4 -.4 .3 -.3 .4 1.8 .3 -1 .4 -1 .3 1.2 .4 .9 .3 -1.1 .4 3.2 .3 -2.8 .4 3.8 .3 -.9 .4 -2.2 .3 1.6 .4 1.5 .3 -1.6 .4 -1.1 .3 1.8 .4 2.6 .3 -4.3 .4 2.8 .3 -.5 .4 0 .3 -.2 .4 .3 .3 1.9 .4 -.4 .3 -1.9 .4 3.5 .3 -3.5 .4 2.7 .3 -.5 .4 1.5 .3 -.9 .4 1.1 .3 -1.2 .4 1.4 .3 -.6 .4 2.5 .3 -3.4 .4 2.6 .3 -.7 .4 -.2 .3 -.7 .4 1.5 .3 -2.3 .4 .4 .3 2.9 .4 -2.6 .3 4 .4 -1.9 .3 .9 .4 0 .3 .7 .4 -.7 .3 .2 .4 .5 .3 1.7 .4 .4 .3 .4 .4 -1 .3 -.5 .4 -1.8 .3 3.2 .4 .5 .3 -1.5 .4 1.7 .3 .8 .4 -1.4 .3 1.3 .4 -.8 .3 -2.6 .4 1.8 .3 .2 .4 1.3 .3 -1.7 .4 .6 .3 -.6 .4 1.2 .3 .2 .4 1.2 .3 -.3 .4 -.9 .3 -.1 .4 -.3 .3 -.2 .4 1.8 .3 -5.8 .4 3 .3 .5 .4 .9 .3 -3.3 .4 1.9 .3 .5 .4 -1.9 .3 -2.2 .4 2.1 .3 -1.2 .4 2.6 .3 -2.2 .4 3.8 .3 -2.4 .4 -1.4 .3 .4 .4 -.9 .3 2.2 .4 1.6 .3 -2.5 .4 1.6 .3 -2.7 .4 1.8 .3 3 .4 -5.6 .3 4 .4 -.1 .3 -4.6 .4 .6 .3 .7 .4 2.9 .3 -2.1 .4 .4 .3 1.3 .4 -.9 .3 .1 .4 -.9 .3 2.3 .4 -3 .3 3.8 .4 -3.2 .3 -.8 .4 2.2 .3 -.4 .4 -3.9 .3 3.4 .4 -2.5 .3 .7 .4 2.5 .3 -2.7 .4 1.8 .3 -1.2 .4 3.6 .3 -3.4 .4 -1.8 .3 0 .4 .3 .3 1.6 .4 -.3 .3 1.5 .4 -1.4 .3 -.1 .4 .2 .3 -.8 .4 .7 .3 .7 .4 0 .3 -2.3 .4 -2.1 .3 1.6 .4 1.8 .3 -4.7 .4 3.3 .3 1.6 .4 -1.8 .3 -1 .4 4.9 .3 -.6 .4 -2.9 .3 2.7 .4 0 .3 -4.3 .4 6.7 .3 -6.3 .4 1.2 .3 -1.4 .4 2.1 .3 -2.3 .4 2.5 .3 2.1 .4 -1.4 .3 -.7 .4 3.5 .3 -4.2 .4 3.6 .3 -2.1 .4 1.2 .3 -.1 .4 .4 .3 -.1 .4 -1.2 .3 .6 .4 2.1 .3 -.9 .4 -1.8 .3 1.1 .4 .2 .3 1.5 .4 .6 .3 .1 .4 -1.3 .3 1.6 .4 -2.6 .3 -2.9 .4 6 .3 -3.1 .4 1.6 .3 -.3 .4 4 .3 -3.6 .4 3.3 .3 -1.4 .4 -1.4 .3 -.5 .4 4.6 .3 .1 .4 1.1 .3 2.5 .4 -3.2 .3 .2 .4 -.7 .3 .7 .4 -.8 .3 -1.1 .4 6.8 .3 -8.7 .4 5.1 .3 .6 .4 -.6 .3 -2.4 .4 1.9 .3 -.5 .4 -1.3 .3 2.6 .4 -.7 .3 -.3 .4 3.2 .3 -4.2 .4 3.8 .3 -2.4 .4 2.6 .3 -.7 .4 .5 .3 -3 .4 .6 .3 -.1 .4 2.7 .3 1.6 .4 .9 .3 -3.9 .4 1.5 .3 -4.3 .4 -1.5 .3 3.6 .4 .6 .3 -2.3 .4 -.5 .3 6.2 .4 -3.5 .3 -2.3 .4 10.9 .3 -5.8 .4 -1.3 .3 2.8 .4 -3.9 .3 6.5 .4 -8.5 .3 .7 .4 3.3 .3 -1.7 .4 6.2 .3 -8.4 .4 2.5 .3 2.9 .4 1 .3 1.4 .4 -1.7 .3 5.6 .4 -7.5 .3 2.1 .4 2.2 .3 -3.1 .4 .3 .3 -.2 .4 -.3" stroke="#9467bd" stroke-width="1.2"/>
<path d="M160.0 150.6l.5 -.6 .5 -1.2 .5 -.1 .5 -1.5 .5 .6 .5 -.7 .5 -.8 .5 -.9 .5 -.5 .5 .3 .5 -.8 .5 -.2 .5 -.8 .5 .3 .5 -.9 .5 0 .5 -.8 .5 .1 .5 .3 .5 -.5 .5 0 .5 .4 .5 -.3 .5 .5 .5 -1.1 .5 1.3 .5 .2 .5 -.5 .5 .4 .5 1.1 .5 -.3 .5 .6 .5 .8 .5 .1 .5 .6 .5 0 .5 .8 .5 .6 .5 .1 .5 -.6 .5 1.3 .5 0 .5 -.1 .5 .9 .5 -1 .5 1.3 .5 -.9 .5 .7 .5 -.7 .5 -.6 .5 .3 .5 -.2 .5 -.2 .5 -.1 .5 -1 .5 .1 .5 -.2 .5 -.7 .5 -.5 .5 -.4 .5 .3 .5 -.3 .5 -1 .5 -.6 .5 .4 .5 -1.4 .5 .1 .5 -.9 .5 -.8 .5 .1 .5 -.6 .5 .1 .5 -.2 .5 -1.3 .5 0 .5 -.4 .5 -.9 .5 -.4 .5 .7 .5 -.9 .5 0 .5 -.1 .5 .1 .5 -.1 .5 .5 .5 .3 .5 -.4 .5 -.1 .5 .6 .5 -.3 .5 .5 .5 .9 .5 .6 .5 -.4 .5 -.3 .5 .9 .5 -.9 .5 .8 .5 1.1 .5 0 .5 -.4 .5 .2 .5 1.2 .5 0 .5 .1 .5 .7 .5 -.1 .5 -.2 .5 1.2 .5 -.3 .5 .1 .5 0 .5 .6 .5 -.3 .5 .5 .5 -.4 .5 .4 .5 -.5 .5 -.2 .5 -.6 .5 .2 .5 .5 .5 .6 .5 -1.7 .5 -.1 .5 .3 .5 -.1 .5 -.6 .5 0 .5 -.8 .5 .3 .5 .2 .5 0 .5 -.8 .5 -.2 .5 0 .5 .1 .5 -.5 .5 -.7 .5 .2 .5 -.1 .5 -.9 .5 -.5 .5 .3 .5 -.4 .5 0 .5 -.6 .5 -.6 .5 -.2 .5 -.4 .5 -.2 .5 -.1 .5 -.1 .5 .5 .5 -.9 .5 .4 .5 -.2 .5 .7 .5 -.4 .5 -.2 .5 .4 .5 -.2 .5 -.1 .5 .7 .5 -.2 .5 .4 .5 -.2 .5 0 .5 -.2 .5 -.4 .5 .7 .5 -.1 .5 .2 .5 -.1 .5 -.2 .5 0 .5 .6 .5 .3 .5 -.5 .5 .3 .5 .4 .5 -.7 .5 .3 .5 -.2 .5 .9 .5 -.3 .5 -.1 .5 -.3 .5 .6 .5 .5 .5 -.4 .5 .1 .5 .4 .5 -.5 .5 .6 .5 .3 .5 -.4 .5 .1 .5 .5 .5 0 .5 0 .5 .3 .5 .1 .5 -.2 .5 .2 .5 .5 .5 .4 .5 .3 .5 -.6 .5 .8 .5 .1 .5 -.1 .5 .4 .5 .4 .5 .5 .5 -.8 .5 .8 .5 0 .5 .1 .5 .7 .5 .1 .5 -.5 .5 .5 .5 .3 .5 -.4 .5 .9 .5 -.2 .5 .2 .5 .1 .5 .6 .5 -.6 .5 -.1 .5 .7 .5 -.8 .5 -.1 .5 -.4 .5 .7 .5 -.4 .5 -.1 .5 -.2 .5 -.3 .5 -.4 .5 -.2 .5 .2 .5 -.4 .5 .4 .5 -1.1 .5 -.1 .5 -.4 .5 .6 .5 -1.1 .5 .6 .5 0 .5 -.7 .5 .2 .5 -1.1 .5 .5 .5 -.5 .5 .6 .5 -.1 .5 -.3 .5 .6 .5 -.2 .5 -.3 .5 0 .5 -.3 .5 .4 .5 .8 .5 -1 .5 .4 .5 -.3 .5 .5 .5 -.2 .5 -.2 .5 -.5 .5 .4 .5 .6 .5 -.5 .5 .3 .5 -.4 .5 -.5 .5 .7 .5 -.1 .5 -.5 .5 -.1 .5 0 .5 -.6 .5 0 .5 -.5 .5 -1.1 .5 .4 .5 -.5 .5 -.5 .5 0 .5 -.7 .5 0 .5 -.2 .5 -.8 .5 -1 .5 -.1 .5 .2 .5 -.8 .5 -.5 .5 -.1 .5 0 .5 -.4 .5 -.1 .5 -.7 .5 0 .5 -.1 .5 -.1 .5 -.8 .5 .5 .5 -.5 .5 .8 .5 -.1 .5 -.1 .5 -.4 .5 -.6 .5 .4 .5 -.5 .5 .1 .5 -.6 .5 -.1 .5 .2 .5 .3 .5 -.8 .5 .7 .5 0 .5 -1.6 .5 .3 .5 -.4 .5 .1 .5 -.2 .5 0 .5 .3 .5 -.1 .5 -.3 .5 -.1 .5 0 .5 .1 .5 .2 .5 -.1 .5 .3 .5 -.5 .5 .9 .5 .5 .5 -.3 .5 -.4 .5 1.2 .5 -.3 .5 -.7 .5 1.2 .5 .5 .5 .2 .5 .5 .5 0 .5 0 .5 -.6 .5 .4 .5 .6 .5 .2 .5 -.5 .5 .3 .5 .4 .5 -.7 .5 0 .5 .7 .5 .2 .5 -.2 .5 -.5 .5 .8 .5 -.4 .5 .8 .5 -.2 .5 .2 .5 .2 .5 -.3 .5 .5 .5 .3 .5 -.2 .5 .4 .5 -.6 .5 .7 .5 -.1 .5 -.2 .5 .6 .5 .1 .5 .2 .5 .6 .5 .6 .5 -.2 .5 .4 .5 -.3 .5 .8 .5 .6 .5 .1 .5 .1 .5 0 .5 .1 .5 .5 .5 -.2 .5 .3 .5 1 .5 -.4 .5 1.1 .5 -.9 .5 .8 .5 -.5 .5 .6 .5 -.4 .5 .4 .5 -.1 .5 -.2 .5 .3 .5 .2 .5 -.9 .5 .4 .5 -.5 .5 -.2 .5 .6 .5 -1.8 .5 .3 .5 -.6 .5 .2 .5 -.2 .5 1 .5 -1.5 .5 .1 .5 -.5 .5 -1 .5 0 .5 0 .5 -.9 .5 -.4 .5 -.4 .5 -1.1 .5 -.2 .5 0 .5 -.3 .5 -.9 .5 -.2 .5 -.4 .5 -.4 .5 -.1 .5 -.6 .5 -.3 .5 -.9 .5 -.2 .5 .1 .5 -1.1 .5 .2 .5 -.8 .5 -.5 .5 .1 .5 -.8 .5 -.5 .5 -.2 .5 0 .5 .7 .5 -1.8 .5 .7 .5 -.1 .5 .4 .5 -.4 .5 -.7 .5 1.4 .5 -.8 .5 .4 .5 -.4 .5 .2 .5 .3 .5 .5 .5 .1 .5 -.4 .5 .5 .5 -.1 .5 .4 .5 .3 .5 .4 .5 -.2 .5 .4 .5 .3 .5 .1 .5 -.1 .5 1 .5 -.6 .5 .5 .5 0 .5 .5 .5 -1.1 .5 1.6 .5 -.6 .5 -.3 .5 .6 .5 .8 .5 -.5 .5 -.6 .5 .3 .5 .7 .5 -1 .5 .3 .5 -.2 .5 .7 .5 -1.1 .5 .3 .5 -1 .5 -.3 .5 .3 .5 -.5 .5 -1.1 .5 .6 .5 -.3 .5 -.7 .5 .1 .5 -.1 .5 -.3 .5 -.1 .5 0 .5 .1 .5 -.3 .5 .4 .5 -.5 .5 .6 .5 0 .5 -.3 .5 .7 .5 .4 .5 -.1 .5 -.9 .5 1 .5 -.3 .5 -.1 .5 -.1 .5 .3 .5 .5 .5 -.2 .5 -.3 .5 0 .5 .1 .5 .5 .5 .5 .5 -.9 .5 .4 .5 0 .5 0 .5 .6 .5 .1 .5 -.5 .5 .2 .5 1 .5 -.2 .5 .2 .5 -.3 .5 .2 .5 .3 .5 -.2 .5 -.2 .5 .5 .5 .3 .5 -.7 .5 .8 .5 -.1 .5 -.6 .5 .4 .5 -.1 .5 .3 .5 0 .5 -.7 .5 0 .5 .8 .5 -.3 .5 .1 .5 0 .5 .3 .5 -1 .5 .7 .5 -.7 .5 .4 .5 .1 .5 -1 .5 .5 .5 -.3 .5 -.1 .5 0 .5 -.5 .5 0 .5 .5 .5 0 .5 -.5 .5 -.4 .5 1.3 .5 -.5 .5 -.3 .5 -.5 .5 .1 .5 .3 .5 -.5 .5 .9 .5 -.6 .5 .1 .5 -.6 .5 0 .5 0 .5 .4 .5 -.3 .5 0 .5 .2 .5 -.1 .5 .4 .5 -.6 .5 -.3 .5 .4 .5 .4 .5 -.7 .5 .2 .5 -.1 .5 .2 .5 0 .5 -.4 .5 .2 .5 .4 .5 .1 .5 0 .5 0 .5 -.3 .5 .1 .5 .5 .5 -.7 .5 .5 .5 -.5 .5 .5 .5 0 .5 -.1 .5 .7 .5 -.4 .5 .2 .5 .1 .5 -.1 .5 .8 .5 -.7 .5 .3 .5 -.5 .5 .3 .5 .1 .5 .1 .5 -.1 .5 .3 .5 .5 .5 -.6 .5 0 .5 0 .5 1 .5 -.3 .5 -.4 .5 .1 .5 -.5 .5 .2 .5 .2 .5 -.1 .5 -.3 .5 0 .5 .4 .5 -.2 .5 -.9 .5 .6 .5 .3 .5 -.8 .5 .2 .5 -.7 .5 .6 .5 -.8 .5 -.3 .5 .2 .5 .7 .5 -1.2 .5 -.3 .5 .4 .5 -.2 .5 .3 .5 -1.1 .5 -.3 .5 .4 .5 .1 .5 -.1 .5 .2 .5 -1 .5 .2 .5 .1 .5 .3 .5 -.2 .5 -.4 .5 -.3 .5 .6 .5 0 .5 .5 .5 -1 .5 .6 .5 -1 .5 .2 .5 0 .5 .1 .5 -.1 .5 .3 .5 .3 .5 0 .5 .6 .5 -.1 .5 .2 .5 .8 .5 -.2 .5 .2 .5 .2 .5 .4 .5 .4 .5 -.2 .5 1 .5 .4 .5 .1 .5 -.3 .5 -.1 .5 .6 .5 .5 .5 .4 .5 -.1 .5 .1 .5 .8 .5 -.6 .5 .7 .5 0 .5 -.7 .5 .6 .5 -.3 .5 -.3 .5 -.4 .5 -.1 .5 .4 .5 -.5 .5 -.1 .5 -.8 .5 -.1 .5 -.4 .5 -.9 .5 -.4 .5 .2 .5 -.5 .5 -.8 .5 -.2 .5 -.2 .5 -.1 .5 -1.3 .5 .1 .5 .1 .5 -1.1 .5 .2 .5 -1.7 .5 1.1 .5 -.7 .5 -.8 .5 .8 .5 0 .5 -.1 .5 -.1 .5 -.5 .5 -.3 .5 0 .5 .1 .5 0 .5 -.4 .5 .2 .5 .2 .5 -.3 .5 .7 .5 -.1 .5 -1.2 .5 .2 .5 -.3 .5 0 .5 .6 .5 -.6 .5 0 .5 .3 .5 .4 .5 -.4 .5 0 .5 .5 .5 -.1 .5 0 .5 .2 .5 -.6 .5 .4 .5 -.2 .5 .6 .5 0 .5 -.6 .5 .9 .5 -.8 .5 .9 .5 -.3 .5 -.2 .5 0 .5 .3 .5 .2 .5 -.1 .5 .5 .5 -.6 .5 .6 .5 .1 .5 -.5 .5 .9 .5 -.2 .5 -.1 .5 1 .5 .5 .5 .8 .5 -.1 .5 1.1 .5 .4 .5 .2 .5 .4 .5 -.1 .5 -.1 .5 .6 .5 .1 .5 -.2 .5 -.3 .5 -.5 .5 .6 .5 -.3 .5 -.7 .5 .3 .5 0 .5 -.6 .5 .1 .5 -.3 .5 -1 .5 .1 .5 0 .5 -.1 .5 -.1 .5 -1.4 .5 .5 .5 0 .5 0 .5 0 .5 -1.1 .5 0 .5 -.4 .5 .5 .5 -1 .5 .7 .5 -.3 .5 -.3 .5 -1.1 .5 .3 .5 .3 .5 -.9 .5 .2 .5 -.1 .5 .2 .5 -.4 .5 -.1 .5 -.4 .5 0 .5 -.2 .5 .2 .5 -.4 .5 .4 .5 -1 .5 .9 .5 -.5 .5 .5 .5 -.4 .5 .3 .5 .2 .5 -.7 .5 .3 .5 -.1 .5 .1 .5 -.6 .5 .6 .5 0 .5 -.2 .5 .2 .5 -.4 .5 1.1 .5 -.3 .5 .5 .5 -.9 .5 -.1 .5 .6 .5 -.6 .5 .7 .5 -.3 .5 .2 .5 .2 .5 0 .5 .7 .5 -.4 .5 -.6 .5 .9 .5 -.7 .5 .7 .5 -.3 .5 .3 .5 1 .5 -.4 .5 .2 .5 .3 .5 .4 .5 1 .5 -.6 .5 .3 .5 .9 .5 -.4 .5 .8 .5 .9 .5 -.1 .5 .2 .5 .2 .5 .2 .5 .5 .5 .5 .5 .6 .5 .2 .5 -.4 .5 .2 .5 .6 .5 -.7 .5 .6 .5 .1 .5 -.3 .5 0 .5 .5 .5 -.8 .5 .2 .5 0 .5 .2 .5 -.7 .5 .8 .5 -.7 .5 -.1 .5 -.2 .5 -.3 .5 -.2 .5 .5 .5 -.5 .5 -.3 .5 .2 .5 -.7 .5 .3 .5 -.4 .5 -.5 .5 .4 .5 -.9 .5 .6 .5 -.6 .5 .3 .5 .2 .5 -.3 .5 -.5 .5 .1 .5 -.2 .5 -.3 .5 -.1 .5 .4 .5 .1 .5 -.9 .5 .5 .5 .2 .5 -.2 .5 -.5 .5 .7 .5 -.8 .5 .5 .5 .3 .5 -1.3 .5 .8 .5 -.1 .5 0 .5 -.4 .5 .1 .5 -.4 .5 .5 .5 .1 .5 -.5 .5 -.1 .5 .1 .5 .1 .5 0 .5 0 .5 0 .5 -.5 .5 -.5 .5 1.1 .5 .3 .5 -1 .5 .2 .5 .4 .5 .2 .5 -.2 .5 .3 .5 -.5 .5 .1 .5 0 .5 -.3 .5 .6 .5 -.2 .5 .1 .5 -.5 .5 .5 .5 -.8 .5 .5 .5 -1 .5 .5 .5 .6 .5 -.4 .5 .2 .5 -.7 .5 1.1 .5 -.4 .5 -.2 .5 .1 .5 -.1 .5 .4 .5 -.5 .5 -.6 .5 .3 .5 .5 .5 -.3 .5 -.4 .5 .2 .5 -.2 .5 .1 .5 -.9 .5 .2 .5 .4 .5 -.4 .5 .2 .5 .4 .5 -.9 .5 .1 .5 -.3 .5 -.1 .5 .1 .5 -.6 .5 -.3 .5 1.1 .5 -.6 .5 .3 .5 -.4 .5 -.1 .5 .1 .5 -.1 .5 -.7 .5 .7 .5 -.8 .5 .4 .5 .7 .5 -.9 .5 .5 .5 -.8 .5 .3 .5 -.3 .5 .1 .5 -.5 .5 -.1 .5 .4 .5 -.8 .5 .2 .5 .5 .5 -.5 .5 -.1 .5 -.2 .5 .4 .5 -.2 .5 .2 .5 -.2 .5 .7 .5 -.8 .5 -.5 .5 .7 .5 0 .5 .1 .5 -.6 .5 1 .5 -.3 .5 .1 .5 -.5 .5 .8 .5 -.1 .5 .6 .5 -.5 .5 -.2 .5 .6 .5 -.3 .5 .6 .5 -.4 .5 .5 .5 0 .5 .2 .5 0 .5 0 .5 .4 .5 -.1 .5 .4 .5 0 .5 -.6 .5 .9 .5 .6 .5 -.3 .5 .2 .5 .1 .5 -.3 .5 -.2 .5 .8 .5 .2 .5 -.1 .5 0 .5 0 .5 -.1 .5 .1 .5 0 .5 .1 .5 -.5 .5 .1 .5 .4 .5 -.4 .5 -.8 .5 .8 .5 -1 .5 1.3 .5 -.5 .5 -.2 .5 -.6 .5 -.3 .5 .2 .5 -.1 .5 -.5 .5 .2 .5 0 .5 -.2 .5 -.8 .5 -.5 .5 .6 .5 -.4 .5 .2 .5 .3 .5 -.2 .5 -.5 .5 .1 .5 .1 .5 -.6 .5 0 .5 .1 .5 -.4 .5 -.2 .5 -.2 .5 .2 .5 -.3 .5 .4 .5 -.5 .5 .5 .5 -.2 .5 -.9 .5 .7 .5 -.5 .5 .5 .5 -.4 .5 -.2 .5 .2 .5 -.5 .5 .2 .5 0 .5 -.2 .5 .1 .5 -.5 .5 .5 .5 -.7 .5 .6 .5 0 .5 0 .5 -.4 .5 1.2 .5 -1.1 .5 .1 .5 -.2 .5 .7 .5 -.6 .5 .5 .5 -.6 .5 .5 .5 -.2 .5 .5 .5 -.4 .5 -.1 .5 .5 .5 -.5 .5 .2 .5 .6 .5 -.8 .5 .9 .5 -.3 .5 -.1 .5 .5 .5 .2 .5 -.4 .5 .2 .5 .4 .5 0 .5 -.2 .5 -.2 .5 0 .5 .2 .5 .4 .5 0 .5 0 .5 .3 .5 -.5 .5 0 .5 0 .5 .7 .5 -1.3 .5 .8 .5 0 .5 -.1 .5 .7 .5 -.4 .5 -.1 .5 -.6 .5 .5 .5 -.3 .5 .1 .5 .1 .5 -.3 .5 .4 .5 .3 .5 -.2 .5 -.3 .5 -.7 .5 1 .5 0 .5 -.5 .5 -.1 .5 .4 .5 -.5 .5 .5 .5 -.6 .5 0 .5 .3 .5 -.5 .5 .5 .5 .1 .5 -.6 .5 .7 .5 -.5 .5 .4 .5 -.2 .5 -.2 .5 0 .5 -.4 .5 .3 .5 0 .5 .7 .5 -.2 .5 -.8 .5 .7 .5 -.2 .5 -.2 .5 .3 .5 .1 .5 -.5 .5 .1 .5 .2 .5 -.4 .5 .4 .5 -.1 .5 -.2 .5 -.1 .5 .4 .5 .2 .5 -.2 .5 -.4 .5 .6 .5 -.2 .5 .1 .5 .3 .5 -.7 .5 .3 .5 -.2 .5 0 .5 .9 .5 -.3 .5 -.8 .5 .7 .5 -.3 .5 .6 .5 -.3 .5 -.1 .5 .2 .5 .1 .5 -.1 .5 -.1 .5 .1 .5 .2 .5 -.5 .5 .4 .5 -.1 .5 -.1 .5 .4 .5 -.6 .5 .3 .5 -.2 .5 .5 .5 -.4 .5 .2 .5 0 .5 -.6 .5 .6 .5 -.4 .5 .1 .5 0 .5 .2 .5 0 .5 .2 .5 -.5 .5 -.3 .5 -.1 .5 .4 .5 .2 .5 -.5 .5 -.3 .5 .2 .5 0 .5 -.2 .5 -.3 .5 -.6 .5 .6 .5 .5 .5 -.3 .5 -.8 .5 .7 .5 -.6 .5 1.3 .5 -.6 .5 -.5 .5 .7 .5 -.5 .5 .4 .5 -.1 .5 -.4 .5 .6 .5 -.6 .5 .9 .5 -.4 .5 -.3 .5 -.2 .5 1.2 .5 0 .5 -.9 .5 1 .5 -.4 .5 -.1 .5 .1 .5 0 .5 .6 .5 -.4 .5 -.6 .5 1.3 .5 -.3 .5 -.6 .5 .2 .5 -.1 .5 .3 .5 .2 .5 0 .5 -.3 .5 0 .5 .6 .5 -.3 .5 .8 .5 -1 .5 .5 .5 -.2 .5 -.3 .5 .8 .5 -.4 .5 -.3 .5 .2 .5 .4 .5 -.7 .5 .9 .5 -.2 .5 -.3 .5 .5 .5 .1 .5 -.3 .5 -.1 .5 .5 .5 -.1 .5 -.8 .5 .3 .5 0 .5 -.1 .5 -.3 .5 .8 .5 -.3 .5 0" stroke="#8c564b" stroke-width="1.55"/>
<path d="M160.0 125.5l.5 -.6 .5 .2 .5 .1 .5 -.2 .5 .2 .5 .3 .5 -.2 .5 .5 .5 -.7 .5 .4 .5 -.5 .5 .5 .5 -.2 .5 .7 .5 -.2 .5 0 .5 .4 .5 -.1 .5 -.2 .5 -.4 .5 -.2 .5 .4 .5 0 .5 -.1 .5 .1 .5 -.4 .5 1 .5 -.8 .5 .2 .5 .4 .5 -.7 .5 .8 .5 0 .5 -.4 .5 -.2 .5 .2 .5 -.4 .5 1 .5 -.4 .5 -.3 .5 0 .5 .5 .5 .3 .5 -.9 .5 .2 .5 -.4 .5 .8 .5 -.1 .5 .6 .5 -.7 .5 -.2 .5 -.1 .5 .6 .5 -.9 .5 .8 .5 -.2 .5 -.3 .5 -.1 .5 .6 .5 .2 .5 -.7 .5 .2 .5 .4 .5 -.8 .5 .1 .5 -.4 .5 .4 .5 -.1 .5 -.1 .5 -.2 .5 -.3 .5 .1 .5 0 .5 .5 .5 -.4 .5 -.2 .5 .5 .5 -.1 .5 -.5 .5 0 .5 .4 .5 -.2 .5 -.4 .5 .3 .5 -.1 .5 .3 .5 -.7 .5 .5 .5 -.2 .5 -.5 .5 .6 .5 -.1 .5 -.8 .5 1.1 .5 -1.1 .5 0 .5 .1 .5 .4 .5 -.2 .5 -.2 .5 .4 .5 -.4 .5 .3 .5 .4 .5 -.9 .5 -1 .5 .7 .5 -.3 .5 .3 .5 0 .5 -.5 .5 -.1 .5 .3 .5 -.1 .5 -.8 .5 1.1 .5 -.4 .5 -.1 .5 .1 .5 -.5 .5 .2 .5 .3 .5 0 .5 -.3 .5 -.3 .5 -.3 .5 .7 .5 -.3 .5 -.4 .5 -.7 .5 .4 .5 -.4 .5 1 .5 -.4 .5 -.4 .5 .1 .5 .9 .5 -.5 .5 -.9 .5 .4 .5 -.5 .5 -.2 .5 .6 .5 .7 .5 -.3 .5 -.6 .5 -.2 .5 .1 .5 .3 .5 -.9 .5 -.2 .5 1.2 .5 -.6 .5 .4 .5 -.5 .5 .3 .5 -.7 .5 .3 .5 .3 .5 -.3 .5 -.5 .5 .4 .5 -.6 .5 -.3 .5 .6 .5 .3 .5 -.3 .5 -.8 .5 .7 .5 -.1 .5 -.4 .5 -.8 .5 1.2 .5 -.1 .5 -.2 .5 -.8 .5 .1 .5 .8 .5 -.1 .5 -.1 .5 -.3 .5 .2 .5 -.4 .5 .1 .5 -.2 .5 .3 .5 -.2 .5 .5 .5 -.1 .5 -.6 .5 .9 .5 -1 .5 .6 .5 .2 .5 .1 .5 -1.2 .5 1.1 .5 .1 .5 .1 .5 -1.3 .5 .6 .5 .2 .5 -.1 .5 .7 .5 -.7 .5 .7 .5 -.2 .5 -.7 .5 .2 .5 .2 .5 .2 .5 .4 .5 -.4 .5 .4 .5 -.9 .5 -.5 .5 1 .5 .3 .5 -.2 .5 -.3 .5 .6 .5 .5 .5 -.7 .5 -.2 .5 0 .5 1 .5 -.7 .5 .3 .5 .2 .5 -.1 .5 -.6 .5 .6 .5 0 .5 -.1 .5 .2 .5 -.5 .5 .2 .5 -.2 .5 .5 .5 -.5 .5 .4 .5 -.5 .5 .3 .5 0 .5 .1 .5 .1 .5 -.1 .5 0 .5 -.7 .5 1.2 .5 -.6 .5 .1 .5 -.2 .5 .7 .5 -.7 .5 .5 .5 .3 .5 .2 .5 -.2 .5 -.2 .5 -.6 .5 .9 .5 0 .5 -.2 .5 0 .5 -.2 .5 -.2 .5 .6 .5 0 .5 -.8 .5 .7 .5 -.2 .5 .2 .5 -.2 .5 .3 .5 0 .5 0 .5 -.8 .5 .8 .5 -.3 .5 -.4 .5 .7 .5 -.8 .5 .8 .5 .3 .5 -.7 .5 .5 .5 -.2 .5 .1 .5 -.7 .5 .7 .5 -.1 .5 .2 .5 -.3 .5 .4 .5 -.3 .5 .2 .5 .3 .5 -.4 .5 .3 .5 -.3 .5 .1 .5 -.3 .5 .4 .5 .2 .5 -.4 .5 .3 .5 -.1 .5 -.5 .5 .5 .5 .4 .5 -.6 .5 -.5 .5 .7 .5 -.2 .5 .9 .5 -.7 .5 .1 .5 -.2 .5 .3 .5 -.2 .5 -.1 .5 .3 .5 -.2 .5 .7 .5 -.8 .5 .4 .5 -.2 .5 -.2 .5 1.1 .5 -1.3 .5 1.3 .5 -1 .5 .6 .5 .7 .5 -1.4 .5 .2 .5 1 .5 -.4 .5 -.2 .5 .2 .5 -.3 .5 .5 .5 .5 .5 -.7 .5 .3 .5 .4 .5 .3 .5 -.9 .5 .4 .5 -.3 .5 0 .5 .1 .5 0 .5 -.3 .5 -.1 .5 .5 .5 .3 .5 .5 .5 -.6 .5 .2 .5 .3 .5 .1 .5 -.3 .5 .1 .5 .7 .5 -.7 .5 0 .5 -.4 .5 .8 .5 -.2 .5 .7 .5 -.7 .5 .5 .5 0 .5 .3 .5 -1 .5 1.1 .5 -.5 .5 0 .5 -.1 .5 0 .5 .1 .5 -.6 .5 1 .5 -.2 .5 -.3 .5 .4 .5 .8 .5 -.6 .5 -.3 .5 .8 .5 -.8 .5 .2 .5 -.1 .5 .1 .5 .4 .5 0 .5 -.4 .5 .2 .5 .1 .5 -.1 .5 .1 .5 -.2 .5 0 .5 .3 .5 -.3 .5 .5 .5 -.1 .5 -.2 .5 .1 .5 .1 .5 .1 .5 .2 .5 -.1 .5 -.2 .5 .9 .5 -.2 .5 -.2 .5 .3 .5 -.1 .5 -.2 .5 .2 .5 1 .5 -.5 .5 .2 .5 -.4 .5 .4 .5 .7 .5 -.5 .5 .4 .5 .1 .5 -.1 .5 .5 .5 -.4 .5 .2 .5 -.2 .5 1.2 .5 -.7 .5 0 .5 .5 .5 -.6 .5 .2 .5 -.2 .5 .3 .5 -.1 .5 .3 .5 -.3 .5 -.2 .5 .1 .5 0 .5 -.2 .5 .4 .5 -.2 .5 -.3 .5 -.5 .5 .4 .5 -.7 .5 .4 .5 -.1 .5 -.4 .5 -.1 .5 -.1 .5 .9 .5 -.9 .5 0 .5 .3 .5 -.2 .5 .2 .5 -.8 .5 0 .5 1.5 .5 -1.1 .5 -.1 .5 .2 .5 .3 .5 -.8 .5 .6 .5 -.1 .5 .2 .5 -.1 .5 -.3 .5 -.1 .5 -.5 .5 1.2 .5 -.8 .5 .4 .5 .7 .5 -.7 .5 .4 .5 -.3 .5 .3 .5 -.2 .5 -.2 .5 .7 .5 -.5 .5 -.4 .5 .4 .5 .3 .5 -.6 .5 .7 .5 0 .5 .5 .5 -1 .5 .5 .5 -.8 .5 .4 .5 .2 .5 .1 .5 -.1 .5 0 .5 -.2 .5 .1 .5 .3 .5 .1 .5 0 .5 .1 .5 .1 .5 -1 .5 .4 .5 .2 .5 -.2 .5 .6 .5 -.1 .5 -.3 .5 .1 .5 .4 .5 -.5 .5 0 .5 .4 .5 -.1 .5 .3 .5 -.3 .5 .2 .5 -.5 .5 -.1 .5 .3 .5 -.8 .5 1 .5 .2 .5 -.2 .5 -.1 .5 .5 .5 -.4 .5 .4 .5 .4 .5 -.4 .5 .1 .5 -.1 .5 0 .5 0 .5 0 .5 .4 .5 -.9 .5 .5 .5 .4 .5 -.5 .5 .3 .5 -.2 .5 .5 .5 .1 .5 .3 .5 -.3 .5 -.4 .5 .4 .5 .1 .5 .3 .5 -1.1 .5 .8 .5 -.7 .5 .9 .5 0 .5 0 .5 .2 .5 -.1 .5 -.4 .5 .4 .5 .3 .5 -.4 .5 .1 .5 -.4 .5 .9 .5 -.5 .5 -.1 .5 .2 .5 -.1 .5 .2 .5 .6 .5 -.1 .5 .2 .5 .1 .5 -.7 .5 .5 .5 .4 .5 .3 .5 -1.2 .5 .1 .5 .6 .5 -.2 .5 -.1 .5 .5 .5 -.4 .5 -.4 .5 .8 .5 .1 .5 .2 .5 .2 .5 -.2 .5 -.1 .5 -.1 .5 -.3 .5 .5 .5 .5 .5 -.1 .5 .6 .5 -.7 .5 -.5 .5 .9 .5 .1 .5 -.7 .5 -.1 .5 .6 .5 .3 .5 -.6 .5 .3 .5 -.1 .5 -.1 .5 0 .5 .6 .5 -.1 .5 -.1 .5 -.6 .5 1.5 .5 -.8 .5 .3 .5 -.3 .5 .5 .5 -.5 .5 .5 .5 0 .5 .4 .5 -.6 .5 .2 .5 .1 .5 .9 .5 -1.2 .5 .6 .5 -.2 .5 .3 .5 .2 .5 -.2 .5 .1 .5 0 .5 -.2 .5 .1 .5 -.4 .5 .4 .5 -.1 .5 .2 .5 .3 .5 -.1 .5 .1 .5 .2 .5 -1.1 .5 .9 .5 -.1 .5 0 .5 -.4 .5 .6 .5 .2 .5 0 .5 -.4 .5 .3 .5 .1 .5 .3 .5 -.2 .5 -.3 .5 -.1 .5 .1 .5 0 .5 -.2 .5 .4 .5 -.5 .5 0 .5 .4 .5 -.3 .5 .1 .5 -.6 .5 1 .5 -.3 .5 0 .5 .2 .5 -.1 .5 -.3 .5 .9 .5 -.8 .5 .5 .5 .3 .5 -.8 .5 .2 .5 -.3 .5 .7 .5 -.5 .5 -.2 .5 .8 .5 -.1 .5 -.6 .5 .7 .5 -.3 .5 .8 .5 -.3 .5 -.7 .5 .1 .5 -.2 .5 .3 .5 0 .5 .3 .5 -.2 .5 -.6 .5 .3 .5 .7 .5 0 .5 -.5 .5 .1 .5 0 .5 0 .5 -.5 .5 .8 .5 -.5 .5 .3 .5 -.9 .5 .9 .5 .4 .5 -1.2 .5 1.3 .5 -.3 .5 -.4 .5 -.3 .5 .9 .5 -.3 .5 .1 .5 -.3 .5 -.2 .5 .6 .5 -.6 .5 .6 .5 -.9 .5 .2 .5 -.1 .5 .9 .5 -1.1 .5 .2 .5 .6 .5 -.1 .5 .6 .5 -.1 .5 -.4 .5 0 .5 -.9 .5 .3 .5 .2 .5 0 .5 -.4 .5 .1 .5 0 .5 .7 .5 -.3 .5 -.2 .5 0 .5 .2 .5 -.4 .5 .2 .5 -.5 .5 .7 .5 .1 .5 -.2 .5 .1 .5 -.1 .5 .6 .5 -.6 .5 -.5 .5 0 .5 .6 .5 .2 .5 -.1 .5 0 .5 -.2 .5 -.6 .5 .3 .5 -.4 .5 .5 .5 -.3 .5 .5 .5 -.1 .5 -.6 .5 .9 .5 0 .5 -.7 .5 .5 .5 .2 .5 -.3 .5 .4 .5 -.2 .5 .3 .5 -.3 .5 -.1 .5 .3 .5 .1 .5 -.2 .5 -.2 .5 -.1 .5 .1 .5 0 .5 .3 .5 0 .5 -.1 .5 0 .5 .1 .5 .5 .5 -.1 .5 -.6 .5 .4 .5 -.3 .5 .1 .5 0 .5 -.1 .5 -.3 .5 -.3 .5 .9 .5 .4 .5 -.7 .5 .5 .5 -.3 .5 .2 .5 -.3 .5 .2 .5 .1 .5 -.8 .5 .9 .5 -.1 .5 -.8 .5 1.1 .5 -.2 .5 .1 .5 .1 .5 -.3 .5 -.2 .5 .3 .5 0 .5 .9 .5 -.1 .5 -.8 .5 .1 .5 .2 .5 .2 .5 -.4 .5 -.1 .5 1 .5 -.3 .5 -.8 .5 -.1 .5 .4 .5 .4 .5 .1 .5 -.2 .5 -.4 .5 .6 .5 .2 .5 -.2 .5 -.1 .5 .4 .5 -.2 .5 -.3 .5 .5 .5 -.4 .5 .8 .5 -.2 .5 -.4 .5 .4 .5 .4 .5 -1.1 .5 .8 .5 .6 .5 -1 .5 .5 .5 -.4 .5 .5 .5 -.7 .5 .3 .5 .4 .5 .3 .5 .1 .5 .1 .5 .3 .5 -.1 .5 0 .5 -.5 .5 .3 .5 1.2 .5 -.3 .5 -.4 .5 0 .5 .1 .5 -.4 .5 .8 .5 -.8 .5 .2 .5 .8 .5 -1.4 .5 .8 .5 -.7 .5 .4 .5 .3 .5 -.1 .5 .2 .5 -.3 .5 .3 .5 -.4 .5 .3 .5 -.3 .5 .7 .5 -.7 .5 .7 .5 -.4 .5 .1 .5 .5 .5 -.4 .5 -.6 .5 .8 .5 -1.2 .5 1.1 .5 -.2 .5 -.3 .5 .5 .5 -.1 .5 .8 .5 -.9 .5 .9 .5 -.2 .5 -.7 .5 -.1 .5 .8 .5 -.5 .5 .1 .5 -.2 .5 -.3 .5 .3 .5 -.2 .5 -.2 .5 .5 .5 .7 .5 -.1 .5 -.5 .5 0 .5 .2 .5 .3 .5 -.4 .5 -.3 .5 .1 .5 .5 .5 .5 .5 -1.1 .5 -.5 .5 1 .5 -.3 .5 .1 .5 .4 .5 -.4 .5 -.5 .5 -.2 .5 .7 .5 -.4 .5 .5 .5 -.6 .5 .4 .5 -.4 .5 .4 .5 0 .5 .3 .5 .3 .5 -.5 .5 -.3 .5 1 .5 -.5 .5 0 .5 0 .5 .3 .5 -.1 .5 -.1 .5 0 .5 -.5 .5 0 .5 .2 .5 .1 .5 0 .5 .1 .5 -.1 .5 -.2 .5 -.4 .5 .9 .5 -.1 .5 -.5 .5 .5 .5 -.1 .5 -.1 .5 -.7 .5 .3 .5 .2 .5 .7 .5 -.8 .5 .2 .5 -.3 .5 .2 .5 .3 .5 -.8 .5 -.3 .5 1.2 .5 -.2 .5 -.2 .5 .5 .5 0 .5 -1 .5 .6 .5 .5 .5 -.6 .5 .1 .5 .4 .5 -.4 .5 -.3 .5 .2 .5 -.3 .5 .7 .5 -.8 .5 .9 .5 -.9 .5 .6 .5 -.5 .5 .4 .5 .4 .5 .1 .5 0 .5 -.4 .5 0 .5 .1 .5 .1 .5 -.3 .5 .5 .5 -.3 .5 .3 .5 -.2 .5 0 .5 -.5 .5 .1 .5 -.3 .5 .4 .5 0 .5 .4 .5 -.7 .5 1.5 .5 -1.2 .5 .5 .5 0 .5 -1.3 .5 .8 .5 .6 .5 -1.4 .5 1.2 .5 -.6 .5 .1 .5 .3 .5 -.8 .5 .8 .5 -.3 .5 -.1 .5 .5 .5 1 .5 -1.1 .5 .1 .5 -.2 .5 -.3 .5 .4 .5 .4 .5 -.4 .5 .2 .5 -.4 .5 1 .5 -1.5 .5 .8 .5 0 .5 -.1 .5 -.5 .5 0 .5 .3 .5 .2 .5 -.5 .5 .1 .5 .6 .5 .1 .5 -.5 .5 -.1 .5 0 .5 1.2 .5 -.7 .5 -.2 .5 .4 .5 .4 .5 -.3 .5 -.9 .5 .4 .5 -.1 .5 .1 .5 -.3 .5 .3 .5 -.2 .5 .5 .5 -.1 .5 -.5 .5 -.1 .5 .4 .5 .4 .5 0 .5 -.2 .5 -1.1 .5 1 .5 -.1 .5 .2 .5 -.3 .5 .3 .5 -.1 .5 1.2 .5 -.7 .5 -.3 .5 .1 .5 0 .5 .1 .5 -.2 .5 .2 .5 .4 .5 -.1 .5 -.2 .5 .4 .5 -.4 .5 -.4 .5 -.2 .5 .4 .5 .2 .5 .2 .5 .3 .5 -.6 .5 -.1 .5 .6 .5 .2 .5 -.6 .5 .3 .5 .4 .5 -.4 .5 -.1 .5 -.7 .5 1.2 .5 -.2 .5 -.2 .5 -.1 .5 -.3 .5 .4 .5 0 .5 .5 .5 -.8 .5 .9 .5 -.4 .5 .4 .5 -.7 .5 .5 .5 .3 .5 -.4 .5 -.5 .5 .4 .5 .3 .5 -.6 .5 0 .5 .6 .5 -.4 .5 .6 .5 -.6 .5 -.2 .5 .4 .5 .8 .5 -.8 .5 .3 .5 .2 .5 -.4 .5 .7 .5 -.3 .5 .1 .5 -.7 .5 0 .5 -.3 .5 .9 .5 0 .5 .4 .5 .3 .5 -.6 .5 .1 .5 .2 .5 .5 .5 -.8 .5 .5 .5 -.3 .5 0 .5 .5 .5 -.5 .5 -.1 .5 .7 .5 -.2 .5 -.1 .5 .1 .5 .3 .5 -.3 .5 .4 .5 0 .5 .4 .5 -.1 .5 -.1 .5 -.3 .5 .2 .5 -.3 .5 1.3 .5 -1.1 .5 .4 .5 .3 .5 -.9 .5 .2 .5 .2 .5 -.2 .5 -.1 .5 .3 .5 .7 .5 -.2 .5 -.2 .5 0 .5 -.6 .5 .8 .5 0 .5 -.5 .5 .4 .5 -.1 .5 -.1 .5 -.2 .5 .2 .5 -.1 .5 .5 .5 0 .5 0 .5 -.2 .5 -.1 .5 .9 .5 -1.4 .5 1.1 .5 -.3 .5 -.1 .5 -.1 .5 .1 .5 -.4 .5 0 .5 .4 .5 -.5 .5 .9 .5 .1 .5 -1.6 .5 .7 .5 .6 .5 0 .5 0 .5 .1 .5 .1 .5 .1 .5 .3 .5 -.6 .5 .3 .5 -.9 .5 .5 .5 -.3 .5 .9 .5 .3 .5 -.6 .5 -.6 .5 .4 .5 .1 .5 0 .5 .4 .5 -.1 .5 -1.2 .5 1.4 .5 -.7 .5 0 .5 .7 .5 -.5 .5 -.4 .5 0 .5 .5 .5 .3 .5 .2 .5 -.5 .5 -.1 .5 .7 .5 -.7 .5 .7 .5 -.4 .5 0 .5 -.2 .5 .2 .5 -.2 .5 -.1 .5 .2 .5 -.1 .5 .3 .5 -.1 .5 -.1 .5 .1 .5 0 .5 .7 .5 -.6 .5 -.2 .5 .1 .5 .4 .5 -.3 .5 0 .5 0 .5 .1 .5 .1 .5 .1 .5 -.7 .5 .2 .5 -.5 .5 1.2 .5 .1 .5 .1 .5 -.4 .5 .4 .5 -.4 .5 0 .5 -.5 .5 .3 .5 0 .5 .6 .5 .3 .5 -.8 .5 .4 .5 -.1 .5 -.3 .5 -.3 .5 .3 .5 -.2 .5 .4 .5 .1 .5 0 .5 0 .5 .3 .5 -.5 .5 .7 .5 -.9 .5 .6 .5 .2 .5 -.4 .5 -.3 .5 .8 .5 -.4 .5 .5 .5 0 .5 -.2 .5 0 .5 .4 .5 -.2 .5 -.4 .5 .4 .5 .1 .5 0 .5 0 .5 -.1 .5 0 .5 -.2 .5 -.2 .5 .9 .5 -.5 .5 .3 .5 -.6 .5 .6 .5 -.3 .5 1.4 .5 -1.4 .5 .1 .5 .7 .5 .1 .5 -1.1 .5 .8 .5 .3 .5 -.7 .5 .7 .5 -.4 .5 -.2 .5 .3 .5 0 .5 -.3 .5 1.3 .5 -.9 .5 -.1 .5 .6 .5 -.3 .5 .6" stroke="#e377c2" stroke-width="1.5"/>
<path d="M570.0 207.8l.5 1.2 .5 1.1 .5 1 .5 .7 .5 .4 .5 .2 .5 -.2 .5 -.4 .5 -.4 .5 -.5 .5 -.5 .5 -.4 .5 -.3 .5 -.1 .5 .1 .5 .3 .5 .5 .5 .5 .5 .5 .5 .6 .5 .4 .5 .3 .5 .2 .5 .2 .5 .2 .5 .2 .5 .2 .5 .1 .5 .1 .5 0 .5 0 .5 -.1 .5 0 .5 -.1 .5 -.1 .5 -.2 .5 -.1 .5 -.2 .5 -.3 .5 -.4 .5 -.6 .5 -.6 .5 -.6 .5 -.5 .5 -.4 .5 -.4 .5 -.3 .5 -.4 .5 -.3 .5 -.3 .5 -.2 .5 -.2 .5 -.1 .5 -.1 .5 0 .5 -.1 .5 0 .5 -.1 .5 -.1 .5 -.1 .5 -.1 .5 -.1 .5 -.1 .5 0 .5 -.1 .5 -.1 .5 -.2 .5 -.1 .5 -.2 .5 -.4 .5 -.5 .5 -.5 .5 -.5 .5 -.4 .5 -.2 .5 -.1 .5 0 .5 0 .5 .1 .5 0 .5 0 .5 0 .5 0 .5 .1 .5 -.2 .5 -.4 .5 -.6 .5 -.8 .5 -.8 .5 -.7 .5 -.6 .5 -.4 .5 -.2 .5 -.2 .5 -.2 .5 -.1 .5 -.1 .5 -.2 .5 -.1 .5 -.1 .5 -.1 .5 -.2 .5 -.1 .5 -.1 .5 -.1 .5 -.1 .5 -.1 .5 -.1 .5 -.1 .5 0 .5 -.1 .5 0 .5 -.1 .5 0 .5 -.1 .5 0 .5 -.1 .5 -.2 .5 -.1 .5 -.2 .5 -.2 .5 -.2 .5 -.2 .5 -.3 .5 -.3 .5 -.4 .5 -.6 .5 -.5 .5 -.6 .5 -.5 .5 -.5 .5 -.5 .5 -.6 .5 -.5 .5 -.6 .5 -.5 .5 -.5 .5 -.4 .5 -.4 .5 -.4 .5 -.3 .5 -.3 .5 -.3 .5 -.2 .5 -.2 .5 -.3 .5 -.2 .5 -.2 .5 -.2 .5 -.3 .5 -.2 .5 -.3 .5 -.2 .5 -.2 .5 -.3 .5 -.2 .5 -.3 .5 -.2 .5 -.3 .5 -.2 .5 -.3 .5 -.3 .5 -.3 .5 -.3 .5 -.3 .5 -.3 .5 -.3 .5 -.3 .5 -.3 .5 -.3 .5 -.3 .5 -.3 .5 -.3 .5 -.3 .5 -.4 .5 -.3 .5 -.3 .5 -.3 .5 -.2 .5 -.3 .5 -.2 .5 -.3 .5 -.2 .5 -.3 .5 -.3 .5 -.2 .5 -.2 .5 -.1 .5 -.1 .5 0 .5 0 .5 0 .5 0 .5 0 .5 0 .5 0 .5 0 .5 0 .5 0 .5 0 .5 0 .5 0 .5 0 .5 0 .5 .2 .5 .4 .5 .5 .5 .7 .5 .6 .5 .6 .5 .4 .5 .1 .5 0 .5 -.2 .5 -.3 .5 -.3 .5 -.4 .5 -.4 .5 -.3 .5 -.3 .5 -.2 .5 0 .5 0 .5 .1 .5 .1 .5 .2 .5 .2 .5 .2 .5 .1 .5 .1 .5 .1 .5 0 .5 .1 .5 0 .5 0 .5 .1 .5 0 .5 .1 .5 0 .5 .1 .5 .3 .5 .5 .5 .6 .5 .5 .5 .5 .5 .2 .5 -.1 .5 -.3 .5 -.3 .5 -.3 .5 -.4 .5 -.3 .5 -.2 .5 -.1 .5 .1 .5 .4 .5 .4 .5 .6 .5 .5 .5 .5 .5 .4 .5 .1 .5 -.1 .5 -.3 .5 -.4 .5 -.4 .5 -.5 .5 -.4 .5 -.3 .5 -.1 .5 .1 .5 .4 .5 .5 .5 .6 .5 .7 .5 .6 .5 .6 .5 .5 .5 .4 .5 .1 .5 -.2 .5 -.4 .5 -.6 .5 -.6 .5 -.5 .5 -.2 .5 .2 .5 .4 .5 .7 .5 .7 .5 .8 .5 .6 .5 .5 .5 .1 .5 0 .5 -.2 .5 -.2 .5 -.3 .5 -.3 .5 -.2 .5 -.2 .5 -.1 .5 .1 .5 .2 .5 .2 .5 .3 .5 .3 .5 .2 .5 .2 .5 0 .5 -.1 .5 -.5 .5 -.6 .5 -.8 .5 -.7 .5 -.6 .5 -.5 .5 -.2 .5 .2 .5 .2 .5 .4 .5 .4 .5 .2 .5 .2 .5 -.4 .5 -.9 .5 -1.2 .5 -1.2 .5 -1 .5 -.3 .5 .2 .5 .5 .5 .8 .5 .7 .5 .5 .5 .3 .5 -.2 .5 -.4 .5 -.5 .5 -.7 .5 -.7 .5 -.8 .5 -.7 .5 -.5 .5 -.4 .5 -.1 .5 .1 .5 .3 .5 .3 .5 .4 .5 .3 .5 .1 .5 -.3 .5 -.8 .5 -.9 .5 -1 .5 -.7 .5 -.3 .5 0 .5 .1 .5 .1 .5 .1 .5 .2 .5 .1 .5 .2 .5 .1 .5 .1 .5 0 .5 0 .5 -.1 .5 -.1 .5 -.1 .5 -.1 .5 -.1 .5 -.1 .5 -.1 .5 -.1 .5 -.1 .5 -.1 .5 0 .5 0 .5 .1 .5 .1 .5 .1 .5 .1 .5 .1 .5 .2 .5 .1 .5 .1 .5 .1 .5 .1 .5 .1 .5 0 .5 .1 .5 .1 .5 .1 .5 0 .5 .1 .5 .1 .5 0 .5 .1 .5 .1 .5 0 .5 .1 .5 .1 .5 .1 .5 .1 .5 .1 .5 .1 .5 .1 .5 .1 .5 .1 .5 .1 .5 .1 .5 0 .5 0 .5 0 .5 -.1 .5 -.1 .5 -.1 .5 -.2 .5 -.2 .5 -.2 .5 -.2 .5 -.2 .5 -.2 .5 -.2 .5 -.2 .5 -.3 .5 -.2 .5 -.3 .5 -.3 .5 -.3 .5 -.2 .5 -.3 .5 -.2 .5 -.2 .5 -.2 .5 -.1 .5 -.2 .5 -.2 .5 -.1 .5 -.2 .5 -.1 .5 -.2 .5 -.1 .5 -.2 .5 -.2 .5 -.1 .5 -.2 .5 -.1 .5 -.2 .5 -.1 .5 -.2 .5 -.1 .5 -.2 .5 -.2 .5 -.2 .5 -.2 .5 -.2 .5 -.2 .5 -.3 .5 -.3 .5 -.3 .5 -.3 .5 -.3 .5 -.3 .5 -.4 .5 -.3 .5 -.3 .5 -.2 .5 -.3 .5 -.3 .5 -.3 .5 -.2 .5 -.3 .5 -.2 .5 -.3 .5 -.2 .5 -.2 .5 -.1 .5 -.2 .5 -.1 .5 -.1 .5 -.2 .5 -.1 .5 -.1 .5 -.1 .5 -.1 .5 -.1 .5 -.1 .5 -.1 .5 -.2 .5 -.1 .5 0 .5 -.1 .5 -.1 .5 -.1 .5 -.1 .5 -.1 .5 -.1 .5 -.1 .5 -.1 .5 0 .5 -.1 .5 -.1 .5 -.1 .5 -.1 .5 -.1 .5 -.2 .5 -.1 .5 -.1 .5 -.1 .5 -.1 .5 -.1 .5 -.2 .5 -.1 .5 -.1 .5 -.1 .5 -.2 .5 -.1 .5 -.1 .5 -.2 .5 -.1 .5 -.2 .5 -.1 .5 -.2 .5 -.2 .5 -.2 .5 -.2 .5 -.2 .5 -.2 .5 -.2 .5 -.2 .5 -.2 .5 -.2 .5 -.2 .5 -.2 .5 -.2 .5 -.1 .5 -.2 .5 -.2 .5 -.2 .5 -.2 .5 -.1 .5 -.2 .5 -.2 .5 -.2 .5 -.2 .5 -.3 .5 -.2 .5 -.1 .5 -.2 .5 -.2 .5 -.2 .5 -.1 .5 -.2 .5 -.1 .5 -.1 .5 -.1 .5 0 .5 0 .5 0 .5 0 .5 0 .5 0 .5 0 .5 .1 .5 0 .5 0 .5 .1 .5 0 .5 0 .5 .1 .5 0 .5 .1 .5 0 .5 .1 .5 .1 .5 .1 .5 .1 .5 .1 .5 .2 .5 .2 .5 .2 .5 .2 .5 .2 .5 .2 0 2 -.5 -.2 -.5 -.2 -.5 -.2 -.5 -.2 -.5 -.2 -.5 -.2 -.5 -.1 -.5 -.1 -.5 -.1 -.5 -.1 -.5 0 -.5 -.1 -.5 0 -.5 -.1 -.5 0 -.5 -.1 -.5 0 -.5 -.1 -.5 0 -.5 0 -.5 0 -.5 -.1 -.5 0 -.5 0 -.5 0 -.5 0 -.5 0 -.5 .1 -.5 0 -.5 .1 -.5 .2 -.5 .1 -.5 .1 -.5 .2 -.5 .2 -.5 .2 -.5 .2 -.5 .2 -.5 .2 -.5 .2 -.5 .2 -.5 .2 -.5 .2 -.5 .2 -.5 .2 -.5 .1 -.5 .2 -.5 .2 -.5 .2 -.5 .2 -.5 .2 -.5 .2 -.5 .2 -.5 .2 -.5 .2 -.5 .2 -.5 .2 -.5 .2 -.5 .2 -.5 .2 -.5 .1 -.5 .2 -.5 .2 -.5 .1 -.5 .2 -.5 .1 -.5 .2 -.5 .1 -.5 .1 -.5 .2 -.5 .1 -.5 .1 -.5 .1 -.5 .2 -.5 .1 -.5 .1 -.5 .1 -.5 .1 -.5 .1 -.5 .1 -.5 .1 -.5 .1 -.5 .1 -.5 .1 -.5 .1 -.5 .1 -.5 .1 -.5 .1 -.5 .1 -.5 .1 -.5 .1 -.5 0 -.5 .1 -.5 .1 -.5 .1 -.5 .1 -.5 .2 -.5 .1 -.5 .1 -.5 .1 -.5 .1 -.5 .1 -.5 .1 -.5 .2 -.5 .1 -.5 .1 -.5 .2 -.5 .2 -.5 .1 -.5 .2 -.5 .3 -.5 .2 -.5 .3 -.5 .2 -.5 .3 -.5 .3 -.5 .3 -.5 .3 -.5 .2 -.5 .3 -.5 .4 -.5 .3 -.5 .3 -.5 .4 -.5 .3 -.5 .3 -.5 .2 -.5 .3 -.5 .2 -.5 .2 -.5 .1 -.5 .2 -.5 .2 -.5 .1 -.5 .2 -.5 .1 -.5 .2 -.5 .1 -.5 .2 -.5 .2 -.5 .1 -.5 .2 -.5 .1 -.5 .2 -.5 .2 -.5 .1 -.5 .2 -.5 .1 -.5 .2 -.5 .2 -.5 .2 -.5 .2 -.5 .2 -.5 .2 -.5 .3 -.5 .3 -.5 .2 -.5 .3 -.5 .3 -.5 .2 -.5 .3 -.5 .2 -.5 .2 -.5 .2 -.5 .2 -.5 .2 -.5 .2 -.5 .1 -.5 .2 -.5 .1 -.5 .1 -.5 0 -.5 0 -.5 -.1 -.5 0 -.5 -.1 -.5 -.1 -.5 -.1 -.5 -.1 -.5 -.1 -.5 -.1 -.5 -.1 -.5 -.1 -.5 -.1 -.5 -.1 -.5 -.1 -.5 0 -.5 -.1 -.5 -.1 -.5 0 -.5 -.1 -.5 -.1 -.5 0 -.5 -.1 -.5 -.1 -.5 0 -.5 -.1 -.5 -.1 -.5 -.1 -.5 -.1 -.5 -.1 -.5 -.2 -.5 -.1 -.5 -.1 -.5 -.1 -.5 -.1 -.5 -.1 -.5 0 -.5 0 -.5 .1 -.5 .1 -.5 .1 -.5 .1 -.5 .1 -.5 .1 -.5 .1 -.5 .2 -.5 0 -.5 .1 -.5 0 -.5 0 -.5 -.1 -.5 -.1 -.5 -.1 -.5 -.2 -.5 -.1 -.5 -.2 -.5 -.1 -.5 -.1 -.5 0 -.5 .3 -.5 .8 -.5 .9 -.5 1 -.5 .7 -.5 .3 -.5 -.1 -.5 -.3 -.5 -.3 -.5 -.4 -.5 -.3 -.5 -.1 -.5 .2 -.5 .3 -.5 .6 -.5 .7 -.5 .7 -.5 .8 -.5 .7 -.5 .5 -.5 .4 -.5 .1 -.5 -.2 -.5 -.5 -.5 -.8 -.5 -.7 -.5 -.5 -.5 -.3 -.5 .4 -.5 .9 -.5 1.2 -.5 1.2 -.5 1 -.5 .3 -.5 -.1 -.5 -.2 -.5 -.4 -.5 -.4 -.5 -.2 -.5 -.1 -.5 .1 -.5 .5 -.5 .6 -.5 .8 -.5 .7 -.5 .6 -.5 .5 -.5 .2 -.5 -.1 -.5 -.2 -.5 -.2 -.5 -.3 -.5 -.3 -.5 -.2 -.5 -.2 -.5 0 -.5 0 -.5 .2 -.5 .2 -.5 .3 -.5 .3 -.5 .2 -.5 .2 -.5 .1 -.5 -.2 -.5 -.5 -.5 -.6 -.5 -.7 -.5 -.8 -.5 -.6 -.5 -.5 -.5 -.1 -.5 .2 -.5 .4 -.5 .6 -.5 .6 -.5 .5 -.5 .2 -.5 -.1 -.5 -.4 -.5 -.5 -.5 -.6 -.5 -.7 -.5 -.6 -.5 -.6 -.5 -.5 -.5 -.4 -.5 -.1 -.5 .1 -.5 .3 -.5 .4 -.5 .4 -.5 .5 -.5 .4 -.5 .3 -.5 .1 -.5 -.1 -.5 -.4 -.5 -.4 -.5 -.6 -.5 -.5 -.5 -.5 -.5 -.4 -.5 -.1 -.5 .1 -.5 .2 -.5 .4 -.5 .3 -.5 .4 -.5 .3 -.5 .3 -.5 0 -.5 -.1 -.5 -.5 -.5 -.5 -.5 -.6 -.5 -.5 -.5 -.2 -.5 -.1 -.5 -.1 -.5 0 -.5 -.1 -.5 0 -.5 0 -.5 -.1 -.5 0 -.5 0 -.5 -.1 -.5 -.1 -.5 -.1 -.5 -.2 -.5 -.2 -.5 -.1 -.5 -.2 -.5 0 -.5 -.1 -.5 .1 -.5 .2 -.5 .3 -.5 .3 -.5 .4 -.5 .4 -.5 .3 -.5 .3 -.5 .2 -.5 .1 -.5 -.2 -.5 -.4 -.5 -.5 -.5 -.7 -.5 -.6 -.5 -.6 -.5 -.4 -.5 -.1 -.5 0 -.5 0 -.5 0 -.5 0 -.5 0 -.5 0 -.5 0 -.5 0 -.5 0 -.5 0 -.5 0 -.5 0 -.5 0 -.5 0 -.5 .1 -.5 .1 -.5 .1 -.5 .2 -.5 .2 -.5 .3 -.5 .3 -.5 .2 -.5 .3 -.5 .3 -.5 .2 -.5 .3 -.5 .3 -.5 .3 -.5 .3 -.5 .3 -.5 .4 -.5 .3 -.5 .3 -.5 .3 -.5 .3 -.5 .3 -.5 .3 -.5 .3 -.5 .4 -.5 .3 -.5 .3 -.5 .3 -.5 .3 -.5 .2 -.5 .3 -.5 .3 -.5 .2 -.5 .3 -.5 .2 -.5 .3 -.5 .2 -.5 .3 -.5 .2 -.5 .3 -.5 .2 -.5 .2 -.5 .3 -.5 .2 -.5 .2 -.5 .3 -.5 .2 -.5 .3 -.5 .3 -.5 .3 -.5 .4 -.5 .4 -.5 .5 -.5 .5 -.5 .5 -.5 .6 -.5 .6 -.5 .5 -.5 .6 -.5 .5 -.5 .5 -.5 .6 -.5 .6 -.5 .5 -.5 .5 -.5 .4 -.5 .2 -.5 .3 -.5 .2 -.5 .2 -.5 .2 -.5 .2 -.5 .1 -.5 .1 -.5 .1 -.5 .1 -.5 .1 -.5 0 -.5 .1 -.5 .1 -.5 0 -.5 .1 -.5 .1 -.5 .1 -.5 .2 -.5 .1 -.5 .1 -.5 .2 -.5 .1 -.5 .2 -.5 .2 -.5 .1 -.5 .2 -.5 .2 -.5 .2 -.5 .2 -.5 .2 -.5 .3 -.5 .4 -.5 .6 -.5 .8 -.5 .8 -.5 .8 -.5 .7 -.5 .5 -.5 .1 -.5 .1 -.5 0 -.5 0 -.5 0 -.5 0 -.5 .1 -.5 0 -.5 0 -.5 .1 -.5 .4 -.5 .4 -.5 .5 -.5 .6 -.5 .5 -.5 .4 -.5 .3 -.5 .2 -.5 .2 -.5 .1 -.5 .2 -.5 .1 -.5 .1 -.5 .2 -.5 .1 -.5 .1 -.5 .2 -.5 .1 -.5 .1 -.5 .2 -.5 .2 -.5 .2 -.5 .3 -.5 .3 -.5 .3 -.5 .4 -.5 .5 -.5 .5 -.5 .5 -.5 .5 -.5 .5 -.5 .5 -.5 .6 -.5 .6 -.5 .6 -.5 .4 -.5 .3 -.5 .2 -.5 .1 -.5 .2 -.5 .1 -.5 .1 -.5 0 -.5 .1 -.5 0 -.5 0 -.5 -.1 -.5 -.1 -.5 -.2 -.5 -.2 -.5 -.2 -.5 -.2 -.5 -.2 -.5 -.3 -.5 -.4 -.5 -.6 -.5 -.5 -.5 -.5 -.5 -.5 -.5 -.3 -.5 -.1 -.5 .1 -.5 .3 -.5 .4 -.5 .5 -.5 .5 -.5 .4 -.5 .2 -.5 0 -.5 -.2 -.5 -.6 -.5 -.9 -.5 -1.1 -.5 -1.2 -.5 -1.4z" fill="#7f7f7f" stroke="none"/>
<path d="M570.0 210.5l.5 3 .5 .1 .5 1.1 .5 .2 .5 .7 .5 3.3 .5 1.5 .5 1.2 .5 -.6 .5 .5 .5 -1.4 .5 -4.7 .5 2.1 .5 -3.7 .5 -.6 .5 7.3 .5 -6 .5 -3.1 .5 4.8 .5 -.2 .5 -2.2 .5 2.4 .5 3.2 .5 -3.9 .5 3.7 .5 -2.2 .5 3.1 .5 -4 .5 .2 .5 10.5 .5 -6.2 .5 -4.1 .5 8.8 .5 -8.3 .5 -.7 .5 1.7 .5 4.7 .5 -3.6 .5 2 .5 -5.9 .5 1.3 .5 -3.9 .5 1.7 .5 -.7 .5 -.8 .5 -3.3 .5 3 .5 -.3 .5 -3.5 .5 2.7 .5 3.1 .5 -6 .5 3.1 .5 -4.9 .5 5 .5 .8 .5 1.6 .5 -2.5 .5 -.2 .5 .6 .5 -3.6 .5 2.8 .5 -3.2 .5 6.4 .5 -3.5 .5 -1.3 .5 1.2 .5 -5.6 .5 3.8 .5 -1.3 .5 -.2 .5 -2.3 .5 2.6 .5 -1 .5 -1.8 .5 -.5 .5 .5 .5 2.5 .5 -1.8 .5 -.5 .5 1.9 .5 -1.1 .5 .2 .5 1.4 .5 -1.4 .5 .1 .5 -4.2 .5 1.9 .5 -1.2 .5 -.3 .5 -.8 .5 -1 .5 .1 .5 1.1 .5 -1.7 .5 -2.2 .5 3 .5 .2 .5 -1.3 .5 8 .5 -8.9 .5 .5 .5 1.1 .5 .4 .5 -1.4 .5 -.7 .5 -1.3 .5 1.7 .5 0 .5 .5 .5 .8 .5 -1.5 .5 .5 .5 -1.9 .5 2 .5 .4 .5 .8 .5 -1.4 .5 -1 .5 .7 .5 -2 .5 .9 .5 .1 .5 -1.9 .5 -.6 .5 1.3 .5 -1.2 .5 -.2 .5 -.5 .5 -1.7 .5 .4 .5 0 .5 -2 .5 -.4 .5 -1 .5 1 .5 .3 .5 -2.9 .5 1.1 .5 .5 .5 -2.1 .5 -.2 .5 -1.6 .5 .8 .5 .5 .5 .1 .5 -.6 .5 .3 .5 -.7 .5 -1.2 .5 1.5 .5 -.4 .5 -1.5 .5 1.4 .5 -1.1 .5 -.5 .5 .9 .5 -3 .5 .3 .5 1.7 .5 -1.4 .5 -.7 .5 1.2 .5 -.9 .5 -2.3 .5 .5 .5 1.1 .5 1.5 .5 -3.9 .5 1.1 .5 -.7 .5 -1.2 .5 .7 .5 -1.2 .5 .3 .5 1 .5 -1 .5 .5 .5 -1 .5 -.1 .5 -.1 .5 -1.6 .5 .2 .5 .5 .5 -1.7 .5 .4 .5 .8 .5 1.2 .5 -2.9 .5 -.3 .5 1.8 .5 -.6 .5 -.6 .5 1.2 .5 -.4 .5 -.2 .5 1.6 .5 -.9 .5 -.4 .5 .1 .5 1.2 .5 -.3 .5 -1.9 .5 .6 .5 0 .5 0 .5 1.1 .5 .6 .5 .5 .5 .3 .5 1.8 .5 -3 .5 2.5 .5 -.7 .5 -.1 .5 -2 .5 2.1 .5 -3.6 .5 1.3 .5 .7 .5 -1.4 .5 .5 .5 -1.1 .5 .9 .5 1 .5 .3 .5 -.4 .5 .4 .5 .3 .5 -1 .5 .4 .5 1.7 .5 -1.6 .5 1.3 .5 -.7 .5 .9 .5 -1.7 .5 1.2 .5 -.1 .5 -.3 .5 .7 .5 -.2 .5 1 .5 .1 .5 1.4 .5 -.3 .5 -1.8 .5 1.3 .5 -.2 .5 -1.4 .5 1.6 .5 -.9 .5 .6 .5 -1.6 .5 .3 .5 1.2 .5 -1 .5 1.6 .5 .4 .5 .2 .5 .7 .5 -1.3 .5 1.4 .5 -2 .5 .4 .5 2.1 .5 -3.1 .5 -.8 .5 1.5 .5 -1.1 .5 -3.8 .5 4.7 .5 1 .5 .6 .5 1.2 .5 -.4 .5 1 .5 -1.1 .5 1.8 .5 .8 .5 -.8 .5 -.6 .5 -1.9 .5 .1 .5 -.7 .5 1.5 .5 -1.2 .5 1.1 .5 -.2 .5 2.4 .5 -1 .5 1.5 .5 1.8 .5 -1.2 .5 -1.3 .5 1.2 .5 0 .5 -.3 .5 -1.9 .5 1 .5 -1.5 .5 3.5 .5 -2.3 .5 -.1 .5 .9 .5 .2 .5 -.7 .5 1.8 .5 -.9 .5 -1.9 .5 2.8 .5 .6 .5 -1.8 .5 -1.2 .5 -1.5 .5 1 .5 -.5 .5 -.8 .5 .6 .5 -1.1 .5 2.1 .5 -.4 .5 -2.1 .5 1 .5 .1 .5 -.4 .5 -1 .5 -1.7 .5 -.7 .5 -.4 .5 .3 .5 1.2 .5 .7 .5 0 .5 .8 .5 -.5 .5 .8 .5 -1.1 .5 1.8 .5 -2.7 .5 -.6 .5 -1.8 .5 0 .5 -.3 .5 -.4 .5 -.9 .5 -.5 .5 1.7 .5 .5 .5 .5 .5 .6 .5 -.9 .5 -1.1 .5 .3 .5 -3 .5 -.3 .5 1.3 .5 -.6 .5 -1 .5 .1 .5 .8 .5 -.8 .5 1.4 .5 -.3 .5 1.3 .5 -1.5 .5 1.9 .5 -1.6 .5 1 .5 -1.2 .5 .9 .5 -.8 .5 -.3 .5 .2 .5 .3 .5 -.2 .5 .6 .5 -.5 .5 -2 .5 1 .5 -1.9 .5 2.2 .5 .6 .5 -.9 .5 .2 .5 .8 .5 -.1 .5 1.2 .5 -.6 .5 .2 .5 .8 .5 -1.2 .5 .4 .5 -1.1 .5 1.4 .5 .4 .5 1.2 .5 -1.6 .5 -.7 .5 .4 .5 -.3 .5 1.1 .5 .6 .5 -2 .5 .2 .5 2.1 .5 -2.5 .5 2.3 .5 -.9 .5 1.2 .5 .6 .5 -.8 .5 1 .5 -.9 .5 .3 .5 .7 .5 -.4 .5 -1 .5 -.2 .5 .1 .5 -.2 .5 .1 .5 -.6 .5 .5 .5 -.6 .5 0 .5 -.4 .5 .1 .5 -1.9 .5 2.9 .5 -1.9 .5 -.2 .5 .2 .5 .3 .5 -.7 .5 -.9 .5 -.5 .5 -1.9 .5 1.8 .5 -.5 .5 -.1 .5 1.3 .5 -2.5 .5 .9 .5 .5 .5 -.3 .5 0 .5 -1.5 .5 0 .5 .6 .5 -.7 .5 1 .5 -.9 .5 -.2 .5 0 .5 -.5 .5 0 .5 -.6 .5 .1 .5 -.7 .5 .6 .5 -1.3 .5 -.3 .5 1 .5 -.6 .5 -1.6 .5 .5 .5 -.7 .5 2.6 .5 -4.3 .5 2.3 .5 -2.1 .5 1.1 .5 -.9 .5 -.3 .5 .4 .5 .2 .5 -1.3 .5 -.5 .5 1.3 .5 -.5 .5 -.7 .5 -.5 .5 .4 .5 -.3 .5 .3 .5 -1.2 .5 .4 .5 -.5 .5 .9 .5 .2 .5 -1.1 .5 .6 .5 .8 .5 -1.8 .5 -.9 .5 1.4 .5 0 .5 -.8 .5 .7 .5 -.7 .5 -1.1 .5 1 .5 -.3 .5 .9 .5 -1.1 .5 -.2 .5 .3 .5 0 .5 -1.2 .5 .7 .5 -.4 .5 .8 .5 1.8 .5 -3.3 .5 -.6 .5 .1 .5 .3 .5 -.1 .5 .2 .5 .4 .5 -1.3 .5 -1.1 .5 .5 .5 1.3 .5 0 .5 -1.6 .5 -.2 .5 .8 .5 .2 .5 .3 .5 -1 .5 .3 .5 -.8 .5 -.7 .5 2.2 .5 -2.2 .5 -.8 .5 -.1 .5 -.5 .5 .6 .5 1 .5 -2.7 .5 1.7 .5 .3 .5 -1.1 .5 -.9 .5 -.1 .5 .1 .5 -.7 .5 -.2 .5 .3 .5 -.2 .5 .2 .5 -1 .5 1.3 .5 -.5 .5 -.2 .5 -.8 .5 1.1 .5 -1.1 .5 2.1 .5 -.8 .5 -1.6 .5 .2 .5 2.3 .5 -1.5 .5 -.5 .5 .3 .5 0 .5 -.6 .5 .4 .5 -.2 .5 .1 .5 .8 .5 -.9 .5 1.3 .5 -.7 .5 .4 .5 .1 .5 .3 .5 -.1 .5 .2 .5 -.3 .5 1 .5 -.9 .5 .5 .5 .7" stroke="#7f7f7f" stroke-width="1.2"/>
</g>
<rect x="125.5" y="60.5" width="775" height="385" fill="none" stroke="#000" stroke-width="1.1"/>
<path d="M139.5 445.5V450.4M227.5 445.5V450.4M316.5 445.5V450.4M404.5 445.5V450.4M492.5 445.5V450.4M581.5 445.5V450.4M669.5 445.5V450.4M757.5 445.5V450.4M846.5 445.5V450.4M125.5 96.5H120.6M125.5 169.5H120.6M125.5 242.5H120.6M125.5 314.5H120.6M125.5 387.5H120.6" stroke="#000" stroke-width="1.1"/>
<text x="139.5" y="466" text-anchor="middle" font-size="14.7" textLength="43.8" lengthAdjust="spacingAndGlyphs">64000</text>
<text x="227.5" y="466" text-anchor="middle" font-size="14.7" textLength="43.8" lengthAdjust="spacingAndGlyphs">65000</text>
<text x="316.5" y="466" text-anchor="middle" font-size="14.7" textLength="43.8" lengthAdjust="spacingAndGlyphs">66000</text>
<text x="404.5" y="466" text-anchor="middle" font-size="14.7" textLength="43.8" lengthAdjust="spacingAndGlyphs">67000</text>
<text x="492.5" y="466" text-anchor="middle" font-size="14.7" textLength="43.8" lengthAdjust="spacingAndGlyphs">68000</text>
<text x="581.5" y="466" text-anchor="middle" font-size="14.7" textLength="43.8" lengthAdjust="spacingAndGlyphs">69000</text>
<text x="669.5" y="466" text-anchor="middle" font-size="14.7" textLength="43.8" lengthAdjust="spacingAndGlyphs">70000</text>
<text x="757.5" y="466" text-anchor="middle" font-size="14.7" textLength="43.8" lengthAdjust="spacingAndGlyphs">71000</text>
<text x="846.5" y="466" text-anchor="middle" font-size="14.7" textLength="43.8" lengthAdjust="spacingAndGlyphs">72000</text>
<text x="113.6" y="101.9" text-anchor="end" font-size="14.7">50</text>
<text x="113.6" y="174.9" text-anchor="end" font-size="14.7">40</text>
<text x="113.6" y="247.9" text-anchor="end" font-size="14.7">30</text>
<text x="113.6" y="319.9" text-anchor="end" font-size="14.7">20</text>
<text x="113.6" y="392.9" text-anchor="end" font-size="14.7">10</text>
<text x="511.6" y="52" text-anchor="middle" font-size="17.6" textLength="233" lengthAdjust="spacingAndGlyphs">Z3R ant_0 BeiDou E5B-B2(I)</text>
<text x="512.1" y="486" text-anchor="middle" font-size="14.7" textLength="57.4" lengthAdjust="spacingAndGlyphs">Time (s)</text>
<text transform="translate(88.8 252.5) rotate(-90)" text-anchor="middle" font-size="14.7" textLength="72.5" lengthAdjust="spacingAndGlyphs">CNo dB Hz</text>
<rect x="922.5" y="74.6" width="67" height="171.6" rx="3" fill="#fff" stroke="#d4d4d4" stroke-width="1.1"/>
<path d="M927 86.3H956" stroke="#1f77b4" stroke-width="0.7"/>
<text x="966" y="90.0" font-size="14.7" textLength="17.9" lengthAdjust="spacingAndGlyphs">23</text>
<path d="M927 107.4H956" stroke="#ff7f0e" stroke-width="0.7"/>
<text x="966" y="111.1" font-size="14.7" textLength="17.9" lengthAdjust="spacingAndGlyphs">25</text>
<path d="M927 127.5H956" stroke="#2ca02c" stroke-width="0.7"/>
<text x="966" y="131.2" font-size="14.7" textLength="17.9" lengthAdjust="spacingAndGlyphs">27</text>
<path d="M927 148.5H956" stroke="#d62728" stroke-width="0.7"/>
<text x="966" y="152.2" font-size="14.7" textLength="17.9" lengthAdjust="spacingAndGlyphs">28</text>
<path d="M927 169.4H956" stroke="#9467bd" stroke-width="0.7"/>
<text x="966" y="173.1" font-size="14.7" textLength="17.9" lengthAdjust="spacingAndGlyphs">34</text>
<path d="M927 190.4H956" stroke="#8c564b" stroke-width="0.7"/>
<text x="966" y="194.1" font-size="14.7" textLength="17.9" lengthAdjust="spacingAndGlyphs">37</text>
<path d="M927 211.4H956" stroke="#e377c2" stroke-width="0.7"/>
<text x="966" y="215.1" font-size="14.7" textLength="17.9" lengthAdjust="spacingAndGlyphs">43</text>
<path d="M927 232.3H956" stroke="#7f7f7f" stroke-width="0.7"/>
<text x="966" y="236.0" font-size="14.7" textLength="17.9" lengthAdjust="spacingAndGlyphs">46</text>
</svg>
</body></html>
